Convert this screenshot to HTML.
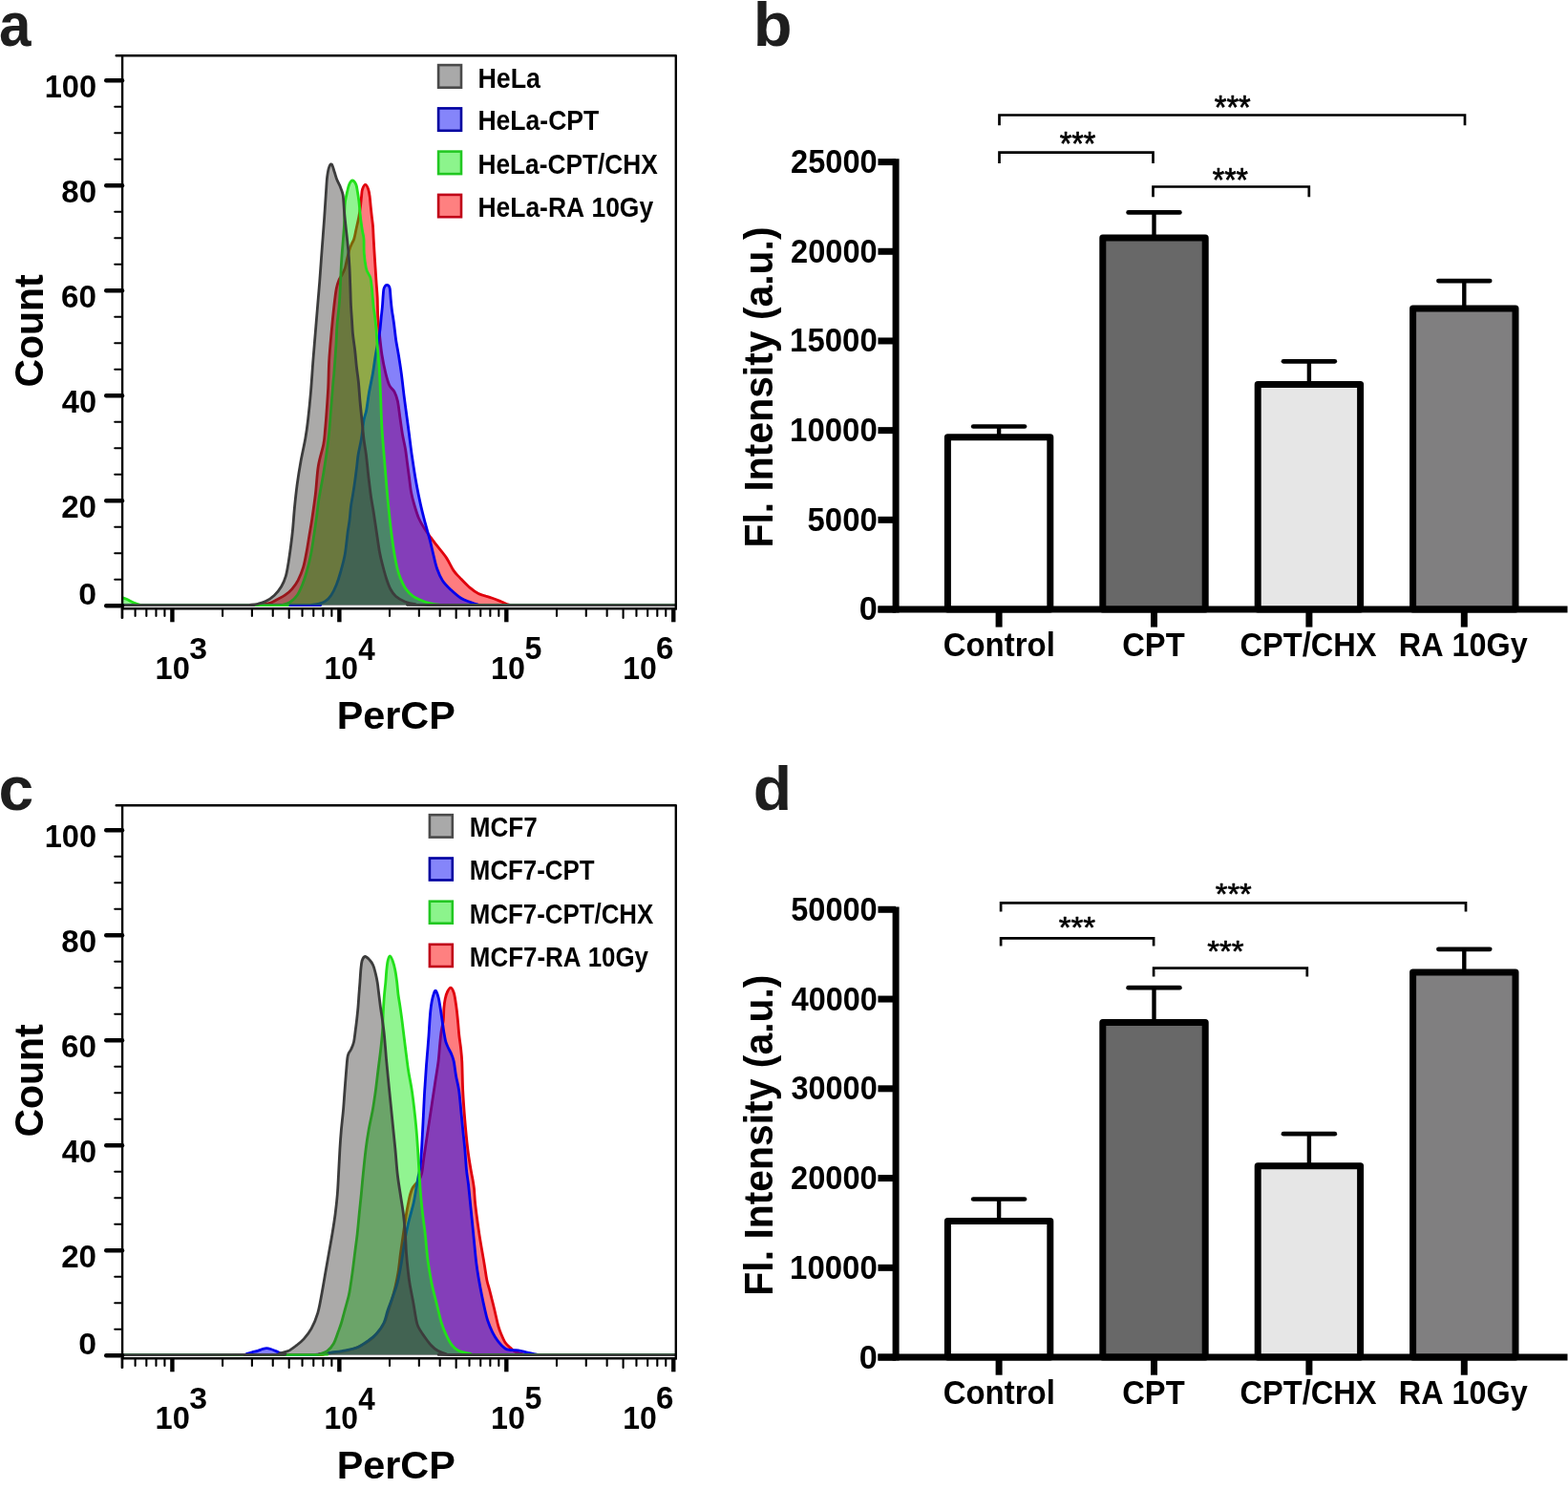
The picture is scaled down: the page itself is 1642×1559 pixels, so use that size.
<!DOCTYPE html>
<html><head><meta charset="utf-8"><title>Figure</title>
<style>
html,body{margin:0;padding:0;background:#fff;width:1642px;height:1559px;overflow:hidden}
svg{display:block}
text{font-family:"Liberation Sans",Arial,Helvetica,sans-serif;font-kerning:none}
</style></head><body>
<svg width="1642" height="1559" viewBox="0 0 1642 1559">
<rect x="0" y="0" width="1642" height="1559" fill="#fff"/>
<text x="-0.96" y="48.06" font-size="65.35" font-weight="bold" fill="#1e1e1e" textLength="33.48" lengthAdjust="spacingAndGlyphs">a</text>
<text x="788.69" y="48.07" font-size="64.95" font-weight="bold" fill="#1e1e1e" textLength="40.85" lengthAdjust="spacingAndGlyphs">b</text>
<text x="-1.48" y="847.87" font-size="64.07" font-weight="bold" fill="#1e1e1e" textLength="36.71" lengthAdjust="spacingAndGlyphs">c</text>
<text x="788.79" y="847.87" font-size="64.41" font-weight="bold" fill="#1e1e1e" textLength="40.37" lengthAdjust="spacingAndGlyphs">d</text>
<path d="M128.50,633.60 C150.75,633.60 237.80,633.67 262.00,633.60 C286.20,633.53 270.23,633.57 273.70,633.20 C277.17,632.83 280.07,632.32 282.80,631.40 C285.53,630.48 287.50,629.07 290.10,627.70 C292.70,626.33 295.80,625.02 298.40,623.20 C301.00,621.38 303.42,619.40 305.70,616.80 C307.98,614.20 310.12,611.42 312.10,607.60 C314.08,603.78 316.12,598.83 317.60,593.90 C319.08,588.97 319.93,583.65 321.00,578.00 C322.07,572.35 323.08,565.50 324.00,560.00 C324.92,554.50 325.43,552.17 326.50,545.00 C327.57,537.83 329.27,526.50 330.40,517.00 C331.53,507.50 331.90,496.67 333.30,488.00 C334.70,479.33 337.60,471.33 338.80,465.00 C340.00,458.67 339.95,455.83 340.50,450.00 C341.05,444.17 341.57,437.50 342.10,430.00 C342.63,422.50 343.27,413.83 343.70,405.00 C344.13,396.17 344.13,386.50 344.70,377.00 C345.27,367.50 346.22,357.67 347.10,348.00 C347.98,338.33 349.13,326.67 350.00,319.00 C350.87,311.33 351.47,306.33 352.30,302.00 C353.13,297.67 353.97,295.50 355.00,293.00 C356.03,290.50 357.43,289.12 358.50,287.00 C359.57,284.88 360.57,282.97 361.40,280.30 C362.23,277.63 362.73,274.22 363.50,271.00 C364.27,267.78 365.17,263.67 366.00,261.00 C366.83,258.33 367.70,256.83 368.50,255.00 C369.30,253.17 370.05,252.50 370.80,250.00 C371.55,247.50 372.15,243.93 373.00,240.00 C373.85,236.07 375.15,230.40 375.90,226.40 C376.65,222.40 377.07,219.40 377.50,216.00 C377.93,212.60 378.17,208.97 378.50,206.00 C378.83,203.03 378.80,200.30 379.50,198.20 C380.20,196.10 381.67,193.40 382.70,193.40 C383.73,193.40 384.95,196.12 385.70,198.20 C386.45,200.28 386.78,202.90 387.20,205.90 C387.62,208.90 387.85,212.78 388.20,216.20 C388.55,219.62 388.92,222.98 389.30,226.40 C389.68,229.82 390.18,232.77 390.50,236.70 C390.82,240.63 390.93,245.22 391.20,250.00 C391.47,254.78 391.78,260.27 392.10,265.40 C392.42,270.53 392.77,275.67 393.10,280.80 C393.43,285.93 393.75,291.07 394.10,296.20 C394.45,301.33 394.93,305.97 395.20,311.60 C395.47,317.23 395.37,323.98 395.70,330.00 C396.03,336.02 396.48,340.73 397.20,347.70 C397.92,354.67 398.88,364.58 400.00,371.80 C401.12,379.02 402.60,385.72 403.90,391.00 C405.20,396.28 406.27,400.28 407.80,403.50 C409.33,406.72 411.67,407.57 413.10,410.30 C414.53,413.03 415.42,415.28 416.40,419.90 C417.38,424.52 418.15,432.15 419.00,438.00 C419.85,443.85 420.58,449.67 421.50,455.00 C422.42,460.33 423.67,465.00 424.50,470.00 C425.33,475.00 425.83,480.00 426.50,485.00 C427.17,490.00 427.83,495.00 428.50,500.00 C429.17,505.00 429.63,510.33 430.50,515.00 C431.37,519.67 432.37,523.42 433.70,528.00 C435.03,532.58 436.73,538.32 438.50,542.50 C440.27,546.68 442.22,549.73 444.30,553.10 C446.38,556.47 448.77,559.65 451.00,562.70 C453.23,565.75 454.97,567.87 457.70,571.40 C460.43,574.93 464.52,579.57 467.40,583.90 C470.28,588.23 472.60,593.87 475.00,597.40 C477.40,600.93 479.07,602.22 481.80,605.10 C484.53,607.98 488.20,611.98 491.40,614.70 C494.60,617.42 496.98,619.47 501.00,621.40 C505.02,623.33 511.48,624.87 515.50,626.30 C519.52,627.73 522.18,628.85 525.10,630.00 C528.02,631.15 529.68,632.60 533.00,633.20 C536.32,633.80 515.92,633.53 545.00,633.60 C574.08,633.67 680.42,633.60 707.50,633.60 L707.50,633.60 L128.50,633.60 Z" fill="rgba(253,0,6,0.512)" stroke="none"/>
<path d="M128.50,633.60 C150.75,633.60 237.80,633.67 262.00,633.60 C286.20,633.53 270.23,633.57 273.70,633.20 C277.17,632.83 280.07,632.32 282.80,631.40 C285.53,630.48 287.50,629.07 290.10,627.70 C292.70,626.33 295.80,625.02 298.40,623.20 C301.00,621.38 303.42,619.40 305.70,616.80 C307.98,614.20 310.12,611.42 312.10,607.60 C314.08,603.78 316.12,598.83 317.60,593.90 C319.08,588.97 319.93,583.65 321.00,578.00 C322.07,572.35 323.08,565.50 324.00,560.00 C324.92,554.50 325.43,552.17 326.50,545.00 C327.57,537.83 329.27,526.50 330.40,517.00 C331.53,507.50 331.90,496.67 333.30,488.00 C334.70,479.33 337.60,471.33 338.80,465.00 C340.00,458.67 339.95,455.83 340.50,450.00 C341.05,444.17 341.57,437.50 342.10,430.00 C342.63,422.50 343.27,413.83 343.70,405.00 C344.13,396.17 344.13,386.50 344.70,377.00 C345.27,367.50 346.22,357.67 347.10,348.00 C347.98,338.33 349.13,326.67 350.00,319.00 C350.87,311.33 351.47,306.33 352.30,302.00 C353.13,297.67 353.97,295.50 355.00,293.00 C356.03,290.50 357.43,289.12 358.50,287.00 C359.57,284.88 360.57,282.97 361.40,280.30 C362.23,277.63 362.73,274.22 363.50,271.00 C364.27,267.78 365.17,263.67 366.00,261.00 C366.83,258.33 367.70,256.83 368.50,255.00 C369.30,253.17 370.05,252.50 370.80,250.00 C371.55,247.50 372.15,243.93 373.00,240.00 C373.85,236.07 375.15,230.40 375.90,226.40 C376.65,222.40 377.07,219.40 377.50,216.00 C377.93,212.60 378.17,208.97 378.50,206.00 C378.83,203.03 378.80,200.30 379.50,198.20 C380.20,196.10 381.67,193.40 382.70,193.40 C383.73,193.40 384.95,196.12 385.70,198.20 C386.45,200.28 386.78,202.90 387.20,205.90 C387.62,208.90 387.85,212.78 388.20,216.20 C388.55,219.62 388.92,222.98 389.30,226.40 C389.68,229.82 390.18,232.77 390.50,236.70 C390.82,240.63 390.93,245.22 391.20,250.00 C391.47,254.78 391.78,260.27 392.10,265.40 C392.42,270.53 392.77,275.67 393.10,280.80 C393.43,285.93 393.75,291.07 394.10,296.20 C394.45,301.33 394.93,305.97 395.20,311.60 C395.47,317.23 395.37,323.98 395.70,330.00 C396.03,336.02 396.48,340.73 397.20,347.70 C397.92,354.67 398.88,364.58 400.00,371.80 C401.12,379.02 402.60,385.72 403.90,391.00 C405.20,396.28 406.27,400.28 407.80,403.50 C409.33,406.72 411.67,407.57 413.10,410.30 C414.53,413.03 415.42,415.28 416.40,419.90 C417.38,424.52 418.15,432.15 419.00,438.00 C419.85,443.85 420.58,449.67 421.50,455.00 C422.42,460.33 423.67,465.00 424.50,470.00 C425.33,475.00 425.83,480.00 426.50,485.00 C427.17,490.00 427.83,495.00 428.50,500.00 C429.17,505.00 429.63,510.33 430.50,515.00 C431.37,519.67 432.37,523.42 433.70,528.00 C435.03,532.58 436.73,538.32 438.50,542.50 C440.27,546.68 442.22,549.73 444.30,553.10 C446.38,556.47 448.77,559.65 451.00,562.70 C453.23,565.75 454.97,567.87 457.70,571.40 C460.43,574.93 464.52,579.57 467.40,583.90 C470.28,588.23 472.60,593.87 475.00,597.40 C477.40,600.93 479.07,602.22 481.80,605.10 C484.53,607.98 488.20,611.98 491.40,614.70 C494.60,617.42 496.98,619.47 501.00,621.40 C505.02,623.33 511.48,624.87 515.50,626.30 C519.52,627.73 522.18,628.85 525.10,630.00 C528.02,631.15 529.68,632.60 533.00,633.20 C536.32,633.80 515.92,633.53 545.00,633.60 C574.08,633.67 680.42,633.60 707.50,633.60" fill="none" stroke="#e0000c" stroke-width="2.8" stroke-linejoin="round"/>
<path d="M128.50,633.60 C160.42,633.60 287.08,633.63 320.00,633.60 C352.92,633.57 323.82,633.62 326.00,633.40 C328.18,633.18 330.70,632.93 333.10,632.30 C335.50,631.67 338.12,631.12 340.40,629.60 C342.68,628.08 344.82,626.10 346.80,623.20 C348.78,620.30 350.63,616.32 352.30,612.20 C353.97,608.08 355.30,603.87 356.80,598.50 C358.30,593.13 360.08,586.85 361.30,580.00 C362.52,573.15 363.32,563.23 364.10,557.40 C364.88,551.57 365.43,549.57 366.00,545.00 C366.57,540.43 366.92,534.50 367.50,530.00 C368.08,525.50 368.83,522.17 369.50,518.00 C370.17,513.83 370.80,510.00 371.50,505.00 C372.20,500.00 373.10,492.83 373.70,488.00 C374.30,483.17 374.30,480.83 375.10,476.00 C375.90,471.17 377.52,465.00 378.50,459.00 C379.48,453.00 380.13,444.92 381.00,440.00 C381.87,435.08 382.77,434.45 383.70,429.50 C384.63,424.55 385.48,416.72 386.60,410.30 C387.72,403.88 389.28,397.42 390.40,391.00 C391.52,384.58 392.22,378.30 393.30,371.80 C394.38,365.30 396.10,356.63 396.90,352.00 C397.70,347.37 397.72,347.28 398.10,344.00 C398.48,340.72 398.82,336.17 399.20,332.30 C399.58,328.43 400.07,324.65 400.40,320.80 C400.73,316.95 400.95,312.25 401.20,309.20 C401.45,306.15 401.50,304.17 401.90,302.50 C402.30,300.83 403.05,299.88 403.60,299.20 C404.15,298.52 404.65,298.40 405.20,298.40 C405.75,298.40 406.38,298.52 406.90,299.20 C407.42,299.88 407.92,300.18 408.30,302.50 C408.68,304.82 408.85,309.42 409.20,313.10 C409.55,316.78 410.00,321.40 410.40,324.60 C410.80,327.80 411.22,329.73 411.60,332.30 C411.98,334.87 412.32,337.05 412.70,340.00 C413.08,342.95 413.55,347.17 413.90,350.00 C414.25,352.83 414.22,353.37 414.80,357.00 C415.38,360.63 416.48,366.13 417.40,371.80 C418.32,377.47 419.33,383.78 420.30,391.00 C421.27,398.22 422.17,406.93 423.20,415.10 C424.23,423.27 425.62,433.35 426.50,440.00 C427.38,446.65 427.92,450.50 428.50,455.00 C429.08,459.50 429.45,462.83 430.00,467.00 C430.55,471.17 430.87,473.82 431.80,480.00 C432.73,486.18 434.17,496.08 435.60,504.10 C437.03,512.12 438.80,520.88 440.40,528.10 C442.00,535.32 443.60,541.30 445.20,547.40 C446.80,553.50 448.55,559.10 450.00,564.70 C451.45,570.30 452.62,575.87 453.90,581.00 C455.18,586.13 456.10,591.00 457.70,595.50 C459.30,600.00 461.08,604.32 463.50,608.00 C465.92,611.68 469.00,614.55 472.20,617.60 C475.40,620.65 479.50,624.23 482.70,626.30 C485.90,628.37 488.52,628.92 491.40,630.00 C494.28,631.08 496.90,632.20 500.00,632.80 C503.10,633.40 475.42,633.47 510.00,633.60 C544.58,633.73 674.58,633.60 707.50,633.60 L707.50,633.60 L128.50,633.60 Z" fill="rgba(9,0,244,0.496)" stroke="none"/>
<path d="M128.50,633.60 C160.42,633.60 287.08,633.63 320.00,633.60 C352.92,633.57 323.82,633.62 326.00,633.40 C328.18,633.18 330.70,632.93 333.10,632.30 C335.50,631.67 338.12,631.12 340.40,629.60 C342.68,628.08 344.82,626.10 346.80,623.20 C348.78,620.30 350.63,616.32 352.30,612.20 C353.97,608.08 355.30,603.87 356.80,598.50 C358.30,593.13 360.08,586.85 361.30,580.00 C362.52,573.15 363.32,563.23 364.10,557.40 C364.88,551.57 365.43,549.57 366.00,545.00 C366.57,540.43 366.92,534.50 367.50,530.00 C368.08,525.50 368.83,522.17 369.50,518.00 C370.17,513.83 370.80,510.00 371.50,505.00 C372.20,500.00 373.10,492.83 373.70,488.00 C374.30,483.17 374.30,480.83 375.10,476.00 C375.90,471.17 377.52,465.00 378.50,459.00 C379.48,453.00 380.13,444.92 381.00,440.00 C381.87,435.08 382.77,434.45 383.70,429.50 C384.63,424.55 385.48,416.72 386.60,410.30 C387.72,403.88 389.28,397.42 390.40,391.00 C391.52,384.58 392.22,378.30 393.30,371.80 C394.38,365.30 396.10,356.63 396.90,352.00 C397.70,347.37 397.72,347.28 398.10,344.00 C398.48,340.72 398.82,336.17 399.20,332.30 C399.58,328.43 400.07,324.65 400.40,320.80 C400.73,316.95 400.95,312.25 401.20,309.20 C401.45,306.15 401.50,304.17 401.90,302.50 C402.30,300.83 403.05,299.88 403.60,299.20 C404.15,298.52 404.65,298.40 405.20,298.40 C405.75,298.40 406.38,298.52 406.90,299.20 C407.42,299.88 407.92,300.18 408.30,302.50 C408.68,304.82 408.85,309.42 409.20,313.10 C409.55,316.78 410.00,321.40 410.40,324.60 C410.80,327.80 411.22,329.73 411.60,332.30 C411.98,334.87 412.32,337.05 412.70,340.00 C413.08,342.95 413.55,347.17 413.90,350.00 C414.25,352.83 414.22,353.37 414.80,357.00 C415.38,360.63 416.48,366.13 417.40,371.80 C418.32,377.47 419.33,383.78 420.30,391.00 C421.27,398.22 422.17,406.93 423.20,415.10 C424.23,423.27 425.62,433.35 426.50,440.00 C427.38,446.65 427.92,450.50 428.50,455.00 C429.08,459.50 429.45,462.83 430.00,467.00 C430.55,471.17 430.87,473.82 431.80,480.00 C432.73,486.18 434.17,496.08 435.60,504.10 C437.03,512.12 438.80,520.88 440.40,528.10 C442.00,535.32 443.60,541.30 445.20,547.40 C446.80,553.50 448.55,559.10 450.00,564.70 C451.45,570.30 452.62,575.87 453.90,581.00 C455.18,586.13 456.10,591.00 457.70,595.50 C459.30,600.00 461.08,604.32 463.50,608.00 C465.92,611.68 469.00,614.55 472.20,617.60 C475.40,620.65 479.50,624.23 482.70,626.30 C485.90,628.37 488.52,628.92 491.40,630.00 C494.28,631.08 496.90,632.20 500.00,632.80 C503.10,633.40 475.42,633.47 510.00,633.60 C544.58,633.73 674.58,633.60 707.50,633.60" fill="none" stroke="#0000ee" stroke-width="2.8" stroke-linejoin="round"/>
<path d="M128.50,625.80 C129.25,626.08 131.08,626.63 133.00,627.50 C134.92,628.37 137.67,630.03 140.00,631.00 C142.33,631.97 143.67,632.87 147.00,633.30 C150.33,633.73 136.17,633.55 160.00,633.60 C183.83,633.65 267.25,633.67 290.00,633.60 C312.75,633.53 294.20,633.72 296.50,633.20 C298.80,632.68 301.35,632.17 303.80,630.50 C306.25,628.83 309.07,626.25 311.20,623.20 C313.33,620.15 314.93,616.32 316.60,612.20 C318.27,608.08 319.68,603.87 321.20,598.50 C322.72,593.13 324.40,586.58 325.70,580.00 C327.00,573.42 328.00,565.67 329.00,559.00 C330.00,552.33 330.87,546.17 331.70,540.00 C332.53,533.83 332.78,529.67 334.00,522.00 C335.22,514.33 337.33,504.50 339.00,494.00 C340.67,483.50 342.75,469.67 344.00,459.00 C345.25,448.33 345.68,439.83 346.50,430.00 C347.32,420.17 348.35,406.50 348.90,400.00 C349.45,393.50 349.28,397.67 349.80,391.00 C350.32,384.33 351.47,368.50 352.00,360.00 C352.53,351.50 352.40,347.67 353.00,340.00 C353.60,332.33 354.85,324.83 355.60,314.00 C356.35,303.17 356.87,285.67 357.50,275.00 C358.13,264.33 358.90,256.67 359.40,250.00 C359.90,243.33 360.27,239.78 360.50,235.00 C360.73,230.22 360.63,225.30 360.80,221.30 C360.97,217.30 361.03,214.42 361.50,211.00 C361.97,207.58 362.90,203.78 363.60,200.80 C364.30,197.82 364.80,195.07 365.70,193.10 C366.60,191.13 367.82,189.00 369.00,189.00 C370.18,189.00 371.90,191.13 372.80,193.10 C373.70,195.07 373.88,197.82 374.40,200.80 C374.92,203.78 375.48,207.58 375.90,211.00 C376.32,214.42 376.55,217.87 376.90,221.30 C377.25,224.73 377.57,228.18 378.00,231.60 C378.43,235.02 379.00,238.73 379.50,241.80 C380.00,244.87 380.70,246.07 381.00,250.00 C381.30,253.93 380.90,260.27 381.30,265.40 C381.70,270.53 382.62,277.20 383.40,280.80 C384.18,284.40 385.23,285.30 386.00,287.00 C386.77,288.70 387.45,288.83 388.00,291.00 C388.55,293.17 388.92,296.57 389.30,300.00 C389.68,303.43 389.98,307.97 390.30,311.60 C390.62,315.23 390.85,318.73 391.20,321.80 C391.55,324.87 391.93,326.13 392.40,330.00 C392.87,333.87 393.60,340.43 394.00,345.00 C394.40,349.57 394.27,350.53 394.80,357.40 C395.33,364.27 396.57,376.60 397.20,386.20 C397.83,395.80 398.22,406.03 398.60,415.00 C398.98,423.97 399.15,432.67 399.50,440.00 C399.85,447.33 400.10,451.00 400.70,459.00 C401.30,467.00 402.30,478.33 403.10,488.00 C403.90,497.67 404.70,508.17 405.50,517.00 C406.30,525.83 407.15,534.00 407.90,541.00 C408.65,548.00 409.15,552.50 410.00,559.00 C410.85,565.50 412.00,574.00 413.00,580.00 C414.00,586.00 414.97,590.82 416.00,595.00 C417.03,599.18 417.70,601.50 419.20,605.10 C420.70,608.70 422.75,613.40 425.00,616.60 C427.25,619.80 430.13,622.37 432.70,624.30 C435.27,626.23 437.52,627.00 440.40,628.20 C443.28,629.40 446.73,630.67 450.00,631.50 C453.27,632.33 456.33,632.85 460.00,633.20 C463.67,633.55 430.75,633.53 472.00,633.60 C513.25,633.67 668.25,633.60 707.50,633.60 L707.50,633.60 L128.50,633.60 Z" fill="rgba(0,229,0,0.431)" stroke="none"/>
<path d="M128.50,625.80 C129.25,626.08 131.08,626.63 133.00,627.50 C134.92,628.37 137.67,630.03 140.00,631.00 C142.33,631.97 143.67,632.87 147.00,633.30 C150.33,633.73 136.17,633.55 160.00,633.60 C183.83,633.65 267.25,633.67 290.00,633.60 C312.75,633.53 294.20,633.72 296.50,633.20 C298.80,632.68 301.35,632.17 303.80,630.50 C306.25,628.83 309.07,626.25 311.20,623.20 C313.33,620.15 314.93,616.32 316.60,612.20 C318.27,608.08 319.68,603.87 321.20,598.50 C322.72,593.13 324.40,586.58 325.70,580.00 C327.00,573.42 328.00,565.67 329.00,559.00 C330.00,552.33 330.87,546.17 331.70,540.00 C332.53,533.83 332.78,529.67 334.00,522.00 C335.22,514.33 337.33,504.50 339.00,494.00 C340.67,483.50 342.75,469.67 344.00,459.00 C345.25,448.33 345.68,439.83 346.50,430.00 C347.32,420.17 348.35,406.50 348.90,400.00 C349.45,393.50 349.28,397.67 349.80,391.00 C350.32,384.33 351.47,368.50 352.00,360.00 C352.53,351.50 352.40,347.67 353.00,340.00 C353.60,332.33 354.85,324.83 355.60,314.00 C356.35,303.17 356.87,285.67 357.50,275.00 C358.13,264.33 358.90,256.67 359.40,250.00 C359.90,243.33 360.27,239.78 360.50,235.00 C360.73,230.22 360.63,225.30 360.80,221.30 C360.97,217.30 361.03,214.42 361.50,211.00 C361.97,207.58 362.90,203.78 363.60,200.80 C364.30,197.82 364.80,195.07 365.70,193.10 C366.60,191.13 367.82,189.00 369.00,189.00 C370.18,189.00 371.90,191.13 372.80,193.10 C373.70,195.07 373.88,197.82 374.40,200.80 C374.92,203.78 375.48,207.58 375.90,211.00 C376.32,214.42 376.55,217.87 376.90,221.30 C377.25,224.73 377.57,228.18 378.00,231.60 C378.43,235.02 379.00,238.73 379.50,241.80 C380.00,244.87 380.70,246.07 381.00,250.00 C381.30,253.93 380.90,260.27 381.30,265.40 C381.70,270.53 382.62,277.20 383.40,280.80 C384.18,284.40 385.23,285.30 386.00,287.00 C386.77,288.70 387.45,288.83 388.00,291.00 C388.55,293.17 388.92,296.57 389.30,300.00 C389.68,303.43 389.98,307.97 390.30,311.60 C390.62,315.23 390.85,318.73 391.20,321.80 C391.55,324.87 391.93,326.13 392.40,330.00 C392.87,333.87 393.60,340.43 394.00,345.00 C394.40,349.57 394.27,350.53 394.80,357.40 C395.33,364.27 396.57,376.60 397.20,386.20 C397.83,395.80 398.22,406.03 398.60,415.00 C398.98,423.97 399.15,432.67 399.50,440.00 C399.85,447.33 400.10,451.00 400.70,459.00 C401.30,467.00 402.30,478.33 403.10,488.00 C403.90,497.67 404.70,508.17 405.50,517.00 C406.30,525.83 407.15,534.00 407.90,541.00 C408.65,548.00 409.15,552.50 410.00,559.00 C410.85,565.50 412.00,574.00 413.00,580.00 C414.00,586.00 414.97,590.82 416.00,595.00 C417.03,599.18 417.70,601.50 419.20,605.10 C420.70,608.70 422.75,613.40 425.00,616.60 C427.25,619.80 430.13,622.37 432.70,624.30 C435.27,626.23 437.52,627.00 440.40,628.20 C443.28,629.40 446.73,630.67 450.00,631.50 C453.27,632.33 456.33,632.85 460.00,633.20 C463.67,633.55 430.75,633.53 472.00,633.60 C513.25,633.67 668.25,633.60 707.50,633.60" fill="none" stroke="#22e01a" stroke-width="2.8" stroke-linejoin="round"/>
<path d="M128.50,633.60 C149.58,633.60 232.75,633.65 255.00,633.60 C277.25,633.55 259.50,633.52 262.00,633.30 C264.50,633.08 267.28,632.92 270.00,632.30 C272.72,631.68 275.40,631.12 278.30,629.60 C281.20,628.08 284.67,625.80 287.40,623.20 C290.13,620.60 292.72,617.35 294.70,614.00 C296.68,610.65 298.08,607.20 299.30,603.10 C300.52,599.00 301.13,594.58 302.00,589.40 C302.87,584.22 303.75,577.73 304.50,572.00 C305.25,566.27 305.83,561.83 306.50,555.00 C307.17,548.17 307.72,539.00 308.50,531.00 C309.28,523.00 310.12,515.00 311.20,507.00 C312.28,499.00 313.57,491.00 315.00,483.00 C316.43,475.00 318.55,466.17 319.80,459.00 C321.05,451.83 321.55,448.17 322.50,440.00 C323.45,431.83 324.60,420.50 325.50,410.00 C326.40,399.50 327.10,387.33 327.90,377.00 C328.70,366.67 329.50,357.67 330.30,348.00 C331.10,338.33 331.97,327.83 332.70,319.00 C333.43,310.17 334.07,303.17 334.70,295.00 C335.33,286.83 335.95,277.50 336.50,270.00 C337.05,262.50 337.50,256.67 338.00,250.00 C338.50,243.33 339.08,235.83 339.50,230.00 C339.92,224.17 340.17,220.00 340.50,215.00 C340.83,210.00 341.15,204.93 341.50,200.00 C341.85,195.07 342.08,189.55 342.60,185.40 C343.12,181.25 343.80,177.32 344.60,175.10 C345.40,172.88 346.45,171.23 347.40,172.10 C348.35,172.97 349.40,177.65 350.30,180.30 C351.20,182.95 351.78,185.43 352.80,188.00 C353.82,190.57 355.37,193.13 356.40,195.70 C357.43,198.27 358.43,200.85 359.00,203.40 C359.57,205.95 359.55,208.02 359.80,211.00 C360.05,213.98 360.22,217.87 360.50,221.30 C360.78,224.73 361.15,228.18 361.50,231.60 C361.85,235.02 362.27,238.73 362.60,241.80 C362.93,244.87 363.10,246.13 363.50,250.00 C363.90,253.87 364.58,260.00 365.00,265.00 C365.42,270.00 365.70,274.17 366.00,280.00 C366.30,285.83 366.55,293.33 366.80,300.00 C367.05,306.67 367.22,314.17 367.50,320.00 C367.78,325.83 368.17,330.00 368.50,335.00 C368.83,340.00 368.97,344.67 369.50,350.00 C370.03,355.33 371.03,361.17 371.70,367.00 C372.37,372.83 372.88,379.50 373.50,385.00 C374.12,390.50 374.82,394.17 375.40,400.00 C375.98,405.83 376.40,413.33 377.00,420.00 C377.60,426.67 378.33,433.33 379.00,440.00 C379.67,446.67 380.27,454.00 381.00,460.00 C381.73,466.00 382.57,469.33 383.40,476.00 C384.23,482.67 385.15,492.67 386.00,500.00 C386.85,507.33 387.67,514.17 388.50,520.00 C389.33,525.83 390.08,529.17 391.00,535.00 C391.92,540.83 392.92,547.83 394.00,555.00 C395.08,562.17 396.33,571.67 397.50,578.00 C398.67,584.33 399.75,588.17 401.00,593.00 C402.25,597.83 403.67,603.00 405.00,607.00 C406.33,611.00 407.43,614.12 409.00,617.00 C410.57,619.88 411.90,622.13 414.40,624.30 C416.90,626.47 420.57,628.60 424.00,630.00 C427.43,631.40 430.67,632.12 435.00,632.70 C439.33,633.28 404.58,633.35 450.00,633.50 C495.42,633.65 664.58,633.58 707.50,633.60 L707.50,633.60 L128.50,633.60 Z" fill="rgba(55,53,50,0.419)" stroke="none"/>
<path d="M128.50,633.60 C149.58,633.60 232.75,633.65 255.00,633.60 C277.25,633.55 259.50,633.52 262.00,633.30 C264.50,633.08 267.28,632.92 270.00,632.30 C272.72,631.68 275.40,631.12 278.30,629.60 C281.20,628.08 284.67,625.80 287.40,623.20 C290.13,620.60 292.72,617.35 294.70,614.00 C296.68,610.65 298.08,607.20 299.30,603.10 C300.52,599.00 301.13,594.58 302.00,589.40 C302.87,584.22 303.75,577.73 304.50,572.00 C305.25,566.27 305.83,561.83 306.50,555.00 C307.17,548.17 307.72,539.00 308.50,531.00 C309.28,523.00 310.12,515.00 311.20,507.00 C312.28,499.00 313.57,491.00 315.00,483.00 C316.43,475.00 318.55,466.17 319.80,459.00 C321.05,451.83 321.55,448.17 322.50,440.00 C323.45,431.83 324.60,420.50 325.50,410.00 C326.40,399.50 327.10,387.33 327.90,377.00 C328.70,366.67 329.50,357.67 330.30,348.00 C331.10,338.33 331.97,327.83 332.70,319.00 C333.43,310.17 334.07,303.17 334.70,295.00 C335.33,286.83 335.95,277.50 336.50,270.00 C337.05,262.50 337.50,256.67 338.00,250.00 C338.50,243.33 339.08,235.83 339.50,230.00 C339.92,224.17 340.17,220.00 340.50,215.00 C340.83,210.00 341.15,204.93 341.50,200.00 C341.85,195.07 342.08,189.55 342.60,185.40 C343.12,181.25 343.80,177.32 344.60,175.10 C345.40,172.88 346.45,171.23 347.40,172.10 C348.35,172.97 349.40,177.65 350.30,180.30 C351.20,182.95 351.78,185.43 352.80,188.00 C353.82,190.57 355.37,193.13 356.40,195.70 C357.43,198.27 358.43,200.85 359.00,203.40 C359.57,205.95 359.55,208.02 359.80,211.00 C360.05,213.98 360.22,217.87 360.50,221.30 C360.78,224.73 361.15,228.18 361.50,231.60 C361.85,235.02 362.27,238.73 362.60,241.80 C362.93,244.87 363.10,246.13 363.50,250.00 C363.90,253.87 364.58,260.00 365.00,265.00 C365.42,270.00 365.70,274.17 366.00,280.00 C366.30,285.83 366.55,293.33 366.80,300.00 C367.05,306.67 367.22,314.17 367.50,320.00 C367.78,325.83 368.17,330.00 368.50,335.00 C368.83,340.00 368.97,344.67 369.50,350.00 C370.03,355.33 371.03,361.17 371.70,367.00 C372.37,372.83 372.88,379.50 373.50,385.00 C374.12,390.50 374.82,394.17 375.40,400.00 C375.98,405.83 376.40,413.33 377.00,420.00 C377.60,426.67 378.33,433.33 379.00,440.00 C379.67,446.67 380.27,454.00 381.00,460.00 C381.73,466.00 382.57,469.33 383.40,476.00 C384.23,482.67 385.15,492.67 386.00,500.00 C386.85,507.33 387.67,514.17 388.50,520.00 C389.33,525.83 390.08,529.17 391.00,535.00 C391.92,540.83 392.92,547.83 394.00,555.00 C395.08,562.17 396.33,571.67 397.50,578.00 C398.67,584.33 399.75,588.17 401.00,593.00 C402.25,597.83 403.67,603.00 405.00,607.00 C406.33,611.00 407.43,614.12 409.00,617.00 C410.57,619.88 411.90,622.13 414.40,624.30 C416.90,626.47 420.57,628.60 424.00,630.00 C427.43,631.40 430.67,632.12 435.00,632.70 C439.33,633.28 404.58,633.35 450.00,633.50 C495.42,633.65 664.58,633.58 707.50,633.60" fill="none" stroke="#3c3c3c" stroke-width="2.8" stroke-linejoin="round"/>
<path d="M121.7,58.30 H707.8 V637.20" fill="none" stroke="#000" stroke-width="2.4" stroke-linecap="round" stroke-linejoin="round"/>
<line x1="128.10" y1="57.30" x2="128.10" y2="647.50" stroke="#000" stroke-width="2.40" stroke-linecap="butt"/>
<line x1="126.90" y1="637.20" x2="709.00" y2="637.20" stroke="#000" stroke-width="2.60" stroke-linecap="butt"/>
<line x1="111.20" y1="634.20" x2="128.00" y2="634.20" stroke="#000" stroke-width="4.40" stroke-linecap="round"/>
<line x1="120.20" y1="606.71" x2="128.00" y2="606.71" stroke="#000" stroke-width="2.00" stroke-linecap="round"/>
<line x1="120.20" y1="579.21" x2="128.00" y2="579.21" stroke="#000" stroke-width="2.00" stroke-linecap="round"/>
<line x1="120.20" y1="551.72" x2="128.00" y2="551.72" stroke="#000" stroke-width="2.00" stroke-linecap="round"/>
<line x1="111.20" y1="524.22" x2="128.00" y2="524.22" stroke="#000" stroke-width="4.40" stroke-linecap="round"/>
<line x1="120.20" y1="496.73" x2="128.00" y2="496.73" stroke="#000" stroke-width="2.00" stroke-linecap="round"/>
<line x1="120.20" y1="469.23" x2="128.00" y2="469.23" stroke="#000" stroke-width="2.00" stroke-linecap="round"/>
<line x1="120.20" y1="441.74" x2="128.00" y2="441.74" stroke="#000" stroke-width="2.00" stroke-linecap="round"/>
<line x1="111.20" y1="414.24" x2="128.00" y2="414.24" stroke="#000" stroke-width="4.40" stroke-linecap="round"/>
<line x1="120.20" y1="386.75" x2="128.00" y2="386.75" stroke="#000" stroke-width="2.00" stroke-linecap="round"/>
<line x1="120.20" y1="359.25" x2="128.00" y2="359.25" stroke="#000" stroke-width="2.00" stroke-linecap="round"/>
<line x1="120.20" y1="331.76" x2="128.00" y2="331.76" stroke="#000" stroke-width="2.00" stroke-linecap="round"/>
<line x1="111.20" y1="304.26" x2="128.00" y2="304.26" stroke="#000" stroke-width="4.40" stroke-linecap="round"/>
<line x1="120.20" y1="276.77" x2="128.00" y2="276.77" stroke="#000" stroke-width="2.00" stroke-linecap="round"/>
<line x1="120.20" y1="249.27" x2="128.00" y2="249.27" stroke="#000" stroke-width="2.00" stroke-linecap="round"/>
<line x1="120.20" y1="221.78" x2="128.00" y2="221.78" stroke="#000" stroke-width="2.00" stroke-linecap="round"/>
<line x1="111.20" y1="194.28" x2="128.00" y2="194.28" stroke="#000" stroke-width="4.40" stroke-linecap="round"/>
<line x1="120.20" y1="166.79" x2="128.00" y2="166.79" stroke="#000" stroke-width="2.00" stroke-linecap="round"/>
<line x1="120.20" y1="139.29" x2="128.00" y2="139.29" stroke="#000" stroke-width="2.00" stroke-linecap="round"/>
<line x1="120.20" y1="111.80" x2="128.00" y2="111.80" stroke="#000" stroke-width="2.00" stroke-linecap="round"/>
<line x1="111.20" y1="84.30" x2="128.00" y2="84.30" stroke="#000" stroke-width="4.40" stroke-linecap="round"/>
<line x1="127.76" y1="637.20" x2="127.76" y2="647.00" stroke="#000" stroke-width="2.10" stroke-linecap="round"/>
<line x1="141.61" y1="637.20" x2="141.61" y2="645.00" stroke="#000" stroke-width="2.10" stroke-linecap="round"/>
<line x1="153.32" y1="637.20" x2="153.32" y2="645.00" stroke="#000" stroke-width="2.10" stroke-linecap="round"/>
<line x1="163.47" y1="637.20" x2="163.47" y2="645.00" stroke="#000" stroke-width="2.10" stroke-linecap="round"/>
<line x1="172.42" y1="637.20" x2="172.42" y2="645.00" stroke="#000" stroke-width="2.10" stroke-linecap="round"/>
<line x1="180.42" y1="637.20" x2="180.42" y2="651.30" stroke="#000" stroke-width="4.40" stroke-linecap="butt"/>
<line x1="233.09" y1="637.20" x2="233.09" y2="645.00" stroke="#000" stroke-width="2.10" stroke-linecap="round"/>
<line x1="263.89" y1="637.20" x2="263.89" y2="645.00" stroke="#000" stroke-width="2.10" stroke-linecap="round"/>
<line x1="285.75" y1="637.20" x2="285.75" y2="645.00" stroke="#000" stroke-width="2.10" stroke-linecap="round"/>
<line x1="302.70" y1="637.20" x2="302.70" y2="647.00" stroke="#000" stroke-width="2.10" stroke-linecap="round"/>
<line x1="316.56" y1="637.20" x2="316.56" y2="645.00" stroke="#000" stroke-width="2.10" stroke-linecap="round"/>
<line x1="328.27" y1="637.20" x2="328.27" y2="645.00" stroke="#000" stroke-width="2.10" stroke-linecap="round"/>
<line x1="338.41" y1="637.20" x2="338.41" y2="645.00" stroke="#000" stroke-width="2.10" stroke-linecap="round"/>
<line x1="347.36" y1="637.20" x2="347.36" y2="645.00" stroke="#000" stroke-width="2.10" stroke-linecap="round"/>
<line x1="355.37" y1="637.20" x2="355.37" y2="651.30" stroke="#000" stroke-width="4.40" stroke-linecap="butt"/>
<line x1="408.03" y1="637.20" x2="408.03" y2="645.00" stroke="#000" stroke-width="2.10" stroke-linecap="round"/>
<line x1="438.84" y1="637.20" x2="438.84" y2="645.00" stroke="#000" stroke-width="2.10" stroke-linecap="round"/>
<line x1="460.69" y1="637.20" x2="460.69" y2="645.00" stroke="#000" stroke-width="2.10" stroke-linecap="round"/>
<line x1="477.65" y1="637.20" x2="477.65" y2="647.00" stroke="#000" stroke-width="2.10" stroke-linecap="round"/>
<line x1="491.50" y1="637.20" x2="491.50" y2="645.00" stroke="#000" stroke-width="2.10" stroke-linecap="round"/>
<line x1="503.21" y1="637.20" x2="503.21" y2="645.00" stroke="#000" stroke-width="2.10" stroke-linecap="round"/>
<line x1="513.36" y1="637.20" x2="513.36" y2="645.00" stroke="#000" stroke-width="2.10" stroke-linecap="round"/>
<line x1="522.31" y1="637.20" x2="522.31" y2="645.00" stroke="#000" stroke-width="2.10" stroke-linecap="round"/>
<line x1="530.31" y1="637.20" x2="530.31" y2="651.30" stroke="#000" stroke-width="4.40" stroke-linecap="butt"/>
<line x1="582.98" y1="637.20" x2="582.98" y2="645.00" stroke="#000" stroke-width="2.10" stroke-linecap="round"/>
<line x1="613.78" y1="637.20" x2="613.78" y2="645.00" stroke="#000" stroke-width="2.10" stroke-linecap="round"/>
<line x1="635.64" y1="637.20" x2="635.64" y2="645.00" stroke="#000" stroke-width="2.10" stroke-linecap="round"/>
<line x1="652.59" y1="637.20" x2="652.59" y2="647.00" stroke="#000" stroke-width="2.10" stroke-linecap="round"/>
<line x1="666.45" y1="637.20" x2="666.45" y2="645.00" stroke="#000" stroke-width="2.10" stroke-linecap="round"/>
<line x1="678.16" y1="637.20" x2="678.16" y2="645.00" stroke="#000" stroke-width="2.10" stroke-linecap="round"/>
<line x1="688.30" y1="637.20" x2="688.30" y2="645.00" stroke="#000" stroke-width="2.10" stroke-linecap="round"/>
<line x1="697.25" y1="637.20" x2="697.25" y2="645.00" stroke="#000" stroke-width="2.10" stroke-linecap="round"/>
<line x1="705.26" y1="637.20" x2="705.26" y2="651.30" stroke="#000" stroke-width="4.40" stroke-linecap="butt"/>
<text x="46.65" y="102.28" font-size="32.34" font-weight="bold" fill="#000" textLength="54.39" lengthAdjust="spacingAndGlyphs">100</text>
<text x="64.25" y="212.26" font-size="32.34" font-weight="bold" fill="#000" textLength="36.81" lengthAdjust="spacingAndGlyphs">80</text>
<text x="64.08" y="322.24" font-size="32.34" font-weight="bold" fill="#000" textLength="36.98" lengthAdjust="spacingAndGlyphs">60</text>
<text x="64.81" y="432.22" font-size="32.34" font-weight="bold" fill="#000" textLength="36.23" lengthAdjust="spacingAndGlyphs">40</text>
<text x="64.15" y="542.20" font-size="32.34" font-weight="bold" fill="#000" textLength="36.91" lengthAdjust="spacingAndGlyphs">20</text>
<text x="82.26" y="633.29" font-size="31.64" font-weight="bold" fill="#000" textLength="18.83" lengthAdjust="spacingAndGlyphs">0</text>
<text x="162.54" y="710.98" font-size="33.05" font-weight="bold" fill="#000" textLength="36.29" lengthAdjust="spacingAndGlyphs">10</text>
<text x="198.22" y="690.44" font-size="32.28" font-weight="bold" fill="#000" textLength="18.80" lengthAdjust="spacingAndGlyphs">3</text>
<text x="339.49" y="710.98" font-size="33.05" font-weight="bold" fill="#000" textLength="35.41" lengthAdjust="spacingAndGlyphs">10</text>
<text x="375.33" y="690.80" font-size="33.29" font-weight="bold" fill="#000" textLength="17.44" lengthAdjust="spacingAndGlyphs">4</text>
<text x="513.97" y="710.98" font-size="33.05" font-weight="bold" fill="#000" textLength="35.85" lengthAdjust="spacingAndGlyphs">10</text>
<text x="549.41" y="690.48" font-size="32.82" font-weight="bold" fill="#000" textLength="17.88" lengthAdjust="spacingAndGlyphs">5</text>
<text x="652.29" y="710.98" font-size="33.05" font-weight="bold" fill="#000" textLength="35.52" lengthAdjust="spacingAndGlyphs">10</text>
<text x="687.09" y="690.48" font-size="32.34" font-weight="bold" fill="#000" textLength="18.41" lengthAdjust="spacingAndGlyphs">6</text>
<text x="352.63" y="762.80" font-size="41.38" font-weight="bold" fill="#000" textLength="124.18" lengthAdjust="spacingAndGlyphs">PerCP</text>
<text transform="rotate(-90)" x="-405.48" y="45.28" font-size="42.80" font-weight="bold" fill="#000" textLength="118.18" lengthAdjust="spacingAndGlyphs">Count</text>
<rect x="459.10" y="68.10" width="23.90" height="23.60" fill="#a9a9a9" stroke="#4a4a4a" stroke-width="2.6"/>
<text x="500.41" y="91.70" font-size="30.09" font-weight="bold" fill="#000" textLength="65.52" lengthAdjust="spacingAndGlyphs">HeLa</text>
<rect x="459.10" y="113.40" width="23.90" height="23.40" fill="#8585fa" stroke="#0000a0" stroke-width="2.6"/>
<text x="500.42" y="136.20" font-size="29.22" font-weight="bold" fill="#000" textLength="126.86" lengthAdjust="spacingAndGlyphs">HeLa-CPT</text>
<rect x="459.10" y="158.60" width="23.90" height="23.50" fill="#8cf48c" stroke="#22c822" stroke-width="2.6"/>
<text x="500.44" y="181.60" font-size="29.22" font-weight="bold" fill="#000" textLength="188.29" lengthAdjust="spacingAndGlyphs">HeLa-CPT/CHX</text>
<rect x="459.10" y="203.90" width="23.90" height="23.30" fill="#fe8080" stroke="#c00018" stroke-width="2.6"/>
<text x="500.43" y="226.90" font-size="30.09" font-weight="bold" fill="#000" textLength="183.71" lengthAdjust="spacingAndGlyphs">HeLa-RA 10Gy</text>
<path d="M128.50,1418.60 C160.42,1418.58 285.58,1418.67 320.00,1418.50 C354.42,1418.33 330.00,1417.97 335.00,1417.60 C340.00,1417.23 345.17,1416.90 350.00,1416.30 C354.83,1415.70 359.67,1415.05 364.00,1414.00 C368.33,1412.95 371.93,1411.92 376.00,1410.00 C380.07,1408.08 384.72,1405.50 388.40,1402.50 C392.08,1399.50 395.67,1395.08 398.10,1392.00 C400.53,1388.92 401.70,1386.83 403.00,1384.00 C404.30,1381.17 404.73,1378.67 405.90,1375.00 C407.07,1371.33 408.65,1366.67 410.00,1362.00 C411.35,1357.33 412.83,1352.00 414.00,1347.00 C415.17,1342.00 416.08,1337.83 417.00,1332.00 C417.92,1326.17 418.60,1318.73 419.50,1312.00 C420.40,1305.27 421.40,1298.43 422.40,1291.60 C423.40,1284.77 424.65,1276.27 425.50,1271.00 C426.35,1265.73 426.82,1263.42 427.50,1260.00 C428.18,1256.58 428.85,1253.17 429.60,1250.50 C430.35,1247.83 431.10,1245.75 432.00,1244.00 C432.90,1242.25 433.92,1241.33 435.00,1240.00 C436.08,1238.67 437.40,1237.87 438.50,1236.00 C439.60,1234.13 440.73,1232.57 441.60,1228.80 C442.47,1225.03 442.85,1219.38 443.70,1213.40 C444.55,1207.42 445.68,1199.73 446.70,1192.90 C447.72,1186.07 448.77,1179.25 449.80,1172.40 C450.83,1165.55 451.87,1158.65 452.90,1151.80 C453.93,1144.95 454.97,1138.13 456.00,1131.30 C457.03,1124.47 458.35,1116.85 459.10,1110.80 C459.85,1104.75 460.00,1100.13 460.50,1095.00 C461.00,1089.87 461.47,1084.48 462.10,1080.00 C462.73,1075.52 463.83,1072.22 464.30,1068.10 C464.77,1063.98 464.58,1059.03 464.90,1055.30 C465.22,1051.57 465.57,1048.58 466.20,1045.70 C466.83,1042.82 467.73,1039.93 468.70,1038.00 C469.67,1036.07 470.92,1033.90 472.00,1034.10 C473.08,1034.30 474.35,1036.73 475.20,1039.20 C476.05,1041.67 476.57,1045.68 477.10,1048.90 C477.63,1052.12 477.97,1054.77 478.40,1058.50 C478.83,1062.23 479.30,1067.05 479.70,1071.30 C480.10,1075.55 480.33,1079.72 480.80,1084.00 C481.27,1088.28 482.00,1092.33 482.50,1097.00 C483.00,1101.67 483.43,1104.57 483.80,1112.00 C484.17,1119.43 484.20,1131.53 484.70,1141.60 C485.20,1151.67 485.95,1162.13 486.80,1172.40 C487.65,1182.67 488.78,1194.65 489.80,1203.20 C490.82,1211.75 492.03,1218.40 492.90,1223.70 C493.77,1229.00 494.40,1231.45 495.00,1235.00 C495.60,1238.55 496.05,1240.70 496.50,1245.00 C496.95,1249.30 496.82,1253.03 497.70,1260.80 C498.58,1268.57 500.25,1281.33 501.80,1291.60 C503.35,1301.87 505.67,1314.33 507.00,1322.40 C508.33,1330.47 508.88,1335.40 509.80,1340.00 C510.72,1344.60 511.63,1346.67 512.50,1350.00 C513.37,1353.33 514.17,1356.67 515.00,1360.00 C515.83,1363.33 516.70,1366.67 517.50,1370.00 C518.30,1373.33 519.05,1376.83 519.80,1380.00 C520.55,1383.17 521.22,1386.33 522.00,1389.00 C522.78,1391.67 523.32,1393.20 524.50,1396.00 C525.68,1398.80 527.32,1403.15 529.10,1405.80 C530.88,1408.45 533.37,1410.28 535.20,1411.90 C537.03,1413.52 537.97,1414.52 540.10,1415.50 C542.23,1416.48 544.68,1417.28 548.00,1417.80 C551.32,1418.32 533.42,1418.47 560.00,1418.60 C586.58,1418.73 682.92,1418.60 707.50,1418.60 L707.50,1418.60 L128.50,1418.60 Z" fill="rgba(253,0,6,0.512)" stroke="none"/>
<path d="M128.50,1418.60 C160.42,1418.58 285.58,1418.67 320.00,1418.50 C354.42,1418.33 330.00,1417.97 335.00,1417.60 C340.00,1417.23 345.17,1416.90 350.00,1416.30 C354.83,1415.70 359.67,1415.05 364.00,1414.00 C368.33,1412.95 371.93,1411.92 376.00,1410.00 C380.07,1408.08 384.72,1405.50 388.40,1402.50 C392.08,1399.50 395.67,1395.08 398.10,1392.00 C400.53,1388.92 401.70,1386.83 403.00,1384.00 C404.30,1381.17 404.73,1378.67 405.90,1375.00 C407.07,1371.33 408.65,1366.67 410.00,1362.00 C411.35,1357.33 412.83,1352.00 414.00,1347.00 C415.17,1342.00 416.08,1337.83 417.00,1332.00 C417.92,1326.17 418.60,1318.73 419.50,1312.00 C420.40,1305.27 421.40,1298.43 422.40,1291.60 C423.40,1284.77 424.65,1276.27 425.50,1271.00 C426.35,1265.73 426.82,1263.42 427.50,1260.00 C428.18,1256.58 428.85,1253.17 429.60,1250.50 C430.35,1247.83 431.10,1245.75 432.00,1244.00 C432.90,1242.25 433.92,1241.33 435.00,1240.00 C436.08,1238.67 437.40,1237.87 438.50,1236.00 C439.60,1234.13 440.73,1232.57 441.60,1228.80 C442.47,1225.03 442.85,1219.38 443.70,1213.40 C444.55,1207.42 445.68,1199.73 446.70,1192.90 C447.72,1186.07 448.77,1179.25 449.80,1172.40 C450.83,1165.55 451.87,1158.65 452.90,1151.80 C453.93,1144.95 454.97,1138.13 456.00,1131.30 C457.03,1124.47 458.35,1116.85 459.10,1110.80 C459.85,1104.75 460.00,1100.13 460.50,1095.00 C461.00,1089.87 461.47,1084.48 462.10,1080.00 C462.73,1075.52 463.83,1072.22 464.30,1068.10 C464.77,1063.98 464.58,1059.03 464.90,1055.30 C465.22,1051.57 465.57,1048.58 466.20,1045.70 C466.83,1042.82 467.73,1039.93 468.70,1038.00 C469.67,1036.07 470.92,1033.90 472.00,1034.10 C473.08,1034.30 474.35,1036.73 475.20,1039.20 C476.05,1041.67 476.57,1045.68 477.10,1048.90 C477.63,1052.12 477.97,1054.77 478.40,1058.50 C478.83,1062.23 479.30,1067.05 479.70,1071.30 C480.10,1075.55 480.33,1079.72 480.80,1084.00 C481.27,1088.28 482.00,1092.33 482.50,1097.00 C483.00,1101.67 483.43,1104.57 483.80,1112.00 C484.17,1119.43 484.20,1131.53 484.70,1141.60 C485.20,1151.67 485.95,1162.13 486.80,1172.40 C487.65,1182.67 488.78,1194.65 489.80,1203.20 C490.82,1211.75 492.03,1218.40 492.90,1223.70 C493.77,1229.00 494.40,1231.45 495.00,1235.00 C495.60,1238.55 496.05,1240.70 496.50,1245.00 C496.95,1249.30 496.82,1253.03 497.70,1260.80 C498.58,1268.57 500.25,1281.33 501.80,1291.60 C503.35,1301.87 505.67,1314.33 507.00,1322.40 C508.33,1330.47 508.88,1335.40 509.80,1340.00 C510.72,1344.60 511.63,1346.67 512.50,1350.00 C513.37,1353.33 514.17,1356.67 515.00,1360.00 C515.83,1363.33 516.70,1366.67 517.50,1370.00 C518.30,1373.33 519.05,1376.83 519.80,1380.00 C520.55,1383.17 521.22,1386.33 522.00,1389.00 C522.78,1391.67 523.32,1393.20 524.50,1396.00 C525.68,1398.80 527.32,1403.15 529.10,1405.80 C530.88,1408.45 533.37,1410.28 535.20,1411.90 C537.03,1413.52 537.97,1414.52 540.10,1415.50 C542.23,1416.48 544.68,1417.28 548.00,1417.80 C551.32,1418.32 533.42,1418.47 560.00,1418.60 C586.58,1418.73 682.92,1418.60 707.50,1418.60" fill="none" stroke="#e0000c" stroke-width="2.8" stroke-linejoin="round"/>
<path d="M128.50,1418.60 C149.08,1418.58 230.42,1418.68 252.00,1418.50 C273.58,1418.32 256.00,1417.95 258.00,1417.50 C260.00,1417.05 262.00,1416.33 264.00,1415.80 C266.00,1415.27 268.17,1414.85 270.00,1414.30 C271.83,1413.75 273.47,1412.93 275.00,1412.50 C276.53,1412.07 277.78,1411.70 279.20,1411.70 C280.62,1411.70 281.87,1412.02 283.50,1412.50 C285.13,1412.98 287.08,1413.82 289.00,1414.60 C290.92,1415.38 293.17,1416.57 295.00,1417.20 C296.83,1417.83 294.17,1418.22 300.00,1418.40 C305.83,1418.58 323.72,1418.47 330.00,1418.30 C336.28,1418.13 334.78,1417.78 337.70,1417.40 C340.62,1417.02 343.43,1416.60 347.50,1416.00 C351.57,1415.40 357.55,1414.72 362.10,1413.80 C366.65,1412.88 371.07,1412.05 374.80,1410.50 C378.53,1408.95 381.27,1406.83 384.50,1404.50 C387.73,1402.17 391.28,1399.75 394.20,1396.50 C397.12,1393.25 400.03,1389.08 402.00,1385.00 C403.97,1380.92 404.48,1376.45 406.00,1372.00 C407.52,1367.55 409.40,1363.15 411.10,1358.30 C412.80,1353.45 414.67,1348.88 416.20,1342.90 C417.73,1336.92 419.10,1329.25 420.30,1322.40 C421.50,1315.55 422.20,1308.70 423.40,1301.80 C424.60,1294.90 425.90,1287.97 427.50,1281.00 C429.10,1274.03 431.63,1266.00 433.00,1260.00 C434.37,1254.00 434.87,1249.67 435.70,1245.00 C436.53,1240.33 437.28,1235.83 438.00,1232.00 C438.72,1228.17 439.43,1226.50 440.00,1222.00 C440.57,1217.50 440.98,1211.17 441.40,1205.00 C441.82,1198.83 442.15,1191.67 442.50,1185.00 C442.85,1178.33 443.17,1171.67 443.50,1165.00 C443.83,1158.33 444.17,1150.83 444.50,1145.00 C444.83,1139.17 445.17,1135.00 445.50,1130.00 C445.83,1125.00 446.10,1120.33 446.50,1115.00 C446.90,1109.67 447.48,1103.17 447.90,1098.00 C448.32,1092.83 448.68,1088.45 449.00,1084.00 C449.32,1079.55 449.50,1075.55 449.80,1071.30 C450.10,1067.05 450.42,1062.23 450.80,1058.50 C451.18,1054.77 451.57,1051.78 452.10,1048.90 C452.63,1046.02 453.32,1043.13 454.00,1041.20 C454.68,1039.27 455.35,1036.77 456.20,1037.30 C457.05,1037.83 458.28,1041.40 459.10,1044.40 C459.92,1047.40 460.45,1051.35 461.10,1055.30 C461.75,1059.25 462.37,1063.83 463.00,1068.10 C463.63,1072.37 464.27,1077.15 464.90,1080.90 C465.53,1084.65 466.05,1087.92 466.80,1090.60 C467.55,1093.28 468.43,1094.87 469.40,1097.00 C470.37,1099.13 471.63,1101.05 472.60,1103.40 C473.57,1105.75 474.38,1107.30 475.20,1111.10 C476.02,1114.90 476.60,1121.12 477.50,1126.20 C478.40,1131.28 479.73,1135.62 480.60,1141.60 C481.47,1147.58 482.02,1155.27 482.70,1162.10 C483.38,1168.93 484.02,1175.75 484.70,1182.60 C485.38,1189.45 486.17,1196.13 486.80,1203.20 C487.43,1210.27 487.88,1218.87 488.50,1225.00 C489.12,1231.13 489.82,1234.03 490.50,1240.00 C491.18,1245.97 491.73,1252.20 492.60,1260.80 C493.47,1269.40 494.67,1281.33 495.70,1291.60 C496.73,1301.87 497.83,1314.33 498.80,1322.40 C499.77,1330.47 500.55,1334.40 501.50,1340.00 C502.45,1345.60 503.50,1351.00 504.50,1356.00 C505.50,1361.00 506.50,1365.67 507.50,1370.00 C508.50,1374.33 509.13,1377.87 510.50,1382.00 C511.87,1386.13 513.82,1391.03 515.70,1394.80 C517.58,1398.57 519.57,1401.73 521.80,1404.60 C524.03,1407.47 526.90,1410.52 529.10,1412.00 C531.30,1413.48 533.17,1413.23 535.00,1413.50 C536.83,1413.77 538.27,1413.43 540.10,1413.60 C541.93,1413.77 543.97,1414.10 546.00,1414.50 C548.03,1414.90 549.63,1415.38 552.30,1416.00 C554.97,1416.62 559.05,1417.77 562.00,1418.20 C564.95,1418.63 545.75,1418.53 570.00,1418.60 C594.25,1418.67 684.58,1418.60 707.50,1418.60 L707.50,1418.60 L128.50,1418.60 Z" fill="rgba(9,0,244,0.496)" stroke="none"/>
<path d="M128.50,1418.60 C149.08,1418.58 230.42,1418.68 252.00,1418.50 C273.58,1418.32 256.00,1417.95 258.00,1417.50 C260.00,1417.05 262.00,1416.33 264.00,1415.80 C266.00,1415.27 268.17,1414.85 270.00,1414.30 C271.83,1413.75 273.47,1412.93 275.00,1412.50 C276.53,1412.07 277.78,1411.70 279.20,1411.70 C280.62,1411.70 281.87,1412.02 283.50,1412.50 C285.13,1412.98 287.08,1413.82 289.00,1414.60 C290.92,1415.38 293.17,1416.57 295.00,1417.20 C296.83,1417.83 294.17,1418.22 300.00,1418.40 C305.83,1418.58 323.72,1418.47 330.00,1418.30 C336.28,1418.13 334.78,1417.78 337.70,1417.40 C340.62,1417.02 343.43,1416.60 347.50,1416.00 C351.57,1415.40 357.55,1414.72 362.10,1413.80 C366.65,1412.88 371.07,1412.05 374.80,1410.50 C378.53,1408.95 381.27,1406.83 384.50,1404.50 C387.73,1402.17 391.28,1399.75 394.20,1396.50 C397.12,1393.25 400.03,1389.08 402.00,1385.00 C403.97,1380.92 404.48,1376.45 406.00,1372.00 C407.52,1367.55 409.40,1363.15 411.10,1358.30 C412.80,1353.45 414.67,1348.88 416.20,1342.90 C417.73,1336.92 419.10,1329.25 420.30,1322.40 C421.50,1315.55 422.20,1308.70 423.40,1301.80 C424.60,1294.90 425.90,1287.97 427.50,1281.00 C429.10,1274.03 431.63,1266.00 433.00,1260.00 C434.37,1254.00 434.87,1249.67 435.70,1245.00 C436.53,1240.33 437.28,1235.83 438.00,1232.00 C438.72,1228.17 439.43,1226.50 440.00,1222.00 C440.57,1217.50 440.98,1211.17 441.40,1205.00 C441.82,1198.83 442.15,1191.67 442.50,1185.00 C442.85,1178.33 443.17,1171.67 443.50,1165.00 C443.83,1158.33 444.17,1150.83 444.50,1145.00 C444.83,1139.17 445.17,1135.00 445.50,1130.00 C445.83,1125.00 446.10,1120.33 446.50,1115.00 C446.90,1109.67 447.48,1103.17 447.90,1098.00 C448.32,1092.83 448.68,1088.45 449.00,1084.00 C449.32,1079.55 449.50,1075.55 449.80,1071.30 C450.10,1067.05 450.42,1062.23 450.80,1058.50 C451.18,1054.77 451.57,1051.78 452.10,1048.90 C452.63,1046.02 453.32,1043.13 454.00,1041.20 C454.68,1039.27 455.35,1036.77 456.20,1037.30 C457.05,1037.83 458.28,1041.40 459.10,1044.40 C459.92,1047.40 460.45,1051.35 461.10,1055.30 C461.75,1059.25 462.37,1063.83 463.00,1068.10 C463.63,1072.37 464.27,1077.15 464.90,1080.90 C465.53,1084.65 466.05,1087.92 466.80,1090.60 C467.55,1093.28 468.43,1094.87 469.40,1097.00 C470.37,1099.13 471.63,1101.05 472.60,1103.40 C473.57,1105.75 474.38,1107.30 475.20,1111.10 C476.02,1114.90 476.60,1121.12 477.50,1126.20 C478.40,1131.28 479.73,1135.62 480.60,1141.60 C481.47,1147.58 482.02,1155.27 482.70,1162.10 C483.38,1168.93 484.02,1175.75 484.70,1182.60 C485.38,1189.45 486.17,1196.13 486.80,1203.20 C487.43,1210.27 487.88,1218.87 488.50,1225.00 C489.12,1231.13 489.82,1234.03 490.50,1240.00 C491.18,1245.97 491.73,1252.20 492.60,1260.80 C493.47,1269.40 494.67,1281.33 495.70,1291.60 C496.73,1301.87 497.83,1314.33 498.80,1322.40 C499.77,1330.47 500.55,1334.40 501.50,1340.00 C502.45,1345.60 503.50,1351.00 504.50,1356.00 C505.50,1361.00 506.50,1365.67 507.50,1370.00 C508.50,1374.33 509.13,1377.87 510.50,1382.00 C511.87,1386.13 513.82,1391.03 515.70,1394.80 C517.58,1398.57 519.57,1401.73 521.80,1404.60 C524.03,1407.47 526.90,1410.52 529.10,1412.00 C531.30,1413.48 533.17,1413.23 535.00,1413.50 C536.83,1413.77 538.27,1413.43 540.10,1413.60 C541.93,1413.77 543.97,1414.10 546.00,1414.50 C548.03,1414.90 549.63,1415.38 552.30,1416.00 C554.97,1416.62 559.05,1417.77 562.00,1418.20 C564.95,1418.63 545.75,1418.53 570.00,1418.60 C594.25,1418.67 684.58,1418.60 707.50,1418.60" fill="none" stroke="#0000ee" stroke-width="2.8" stroke-linejoin="round"/>
<path d="M128.50,1418.60 C161.25,1418.57 290.45,1418.62 325.00,1418.40 C359.55,1418.18 332.87,1417.93 335.80,1417.30 C338.73,1416.67 340.33,1416.35 342.60,1414.60 C344.87,1412.85 347.45,1410.22 349.40,1406.80 C351.35,1403.38 352.95,1397.73 354.30,1394.10 C355.65,1390.47 356.47,1388.35 357.50,1385.00 C358.53,1381.65 359.50,1377.67 360.50,1374.00 C361.50,1370.33 362.60,1366.47 363.50,1363.00 C364.40,1359.53 364.98,1358.27 365.90,1353.20 C366.82,1348.13 368.05,1339.45 369.00,1332.60 C369.95,1325.75 370.73,1318.93 371.60,1312.10 C372.47,1305.27 373.43,1298.45 374.20,1291.60 C374.97,1284.75 375.52,1277.85 376.20,1271.00 C376.88,1264.15 377.67,1257.00 378.30,1250.50 C378.93,1244.00 379.20,1239.88 380.00,1232.00 C380.80,1224.12 382.07,1211.43 383.10,1203.20 C384.13,1194.97 385.00,1189.45 386.20,1182.60 C387.40,1175.75 389.10,1168.93 390.30,1162.10 C391.50,1155.27 392.47,1148.45 393.40,1141.60 C394.33,1134.75 395.05,1127.85 395.90,1121.00 C396.75,1114.15 397.73,1107.33 398.50,1100.50 C399.27,1093.67 400.08,1085.58 400.50,1080.00 C400.92,1074.42 400.82,1071.32 401.00,1067.00 C401.18,1062.68 401.35,1058.38 401.60,1054.10 C401.85,1049.82 402.13,1045.57 402.50,1041.30 C402.87,1037.03 403.42,1032.77 403.80,1028.50 C404.18,1024.23 404.42,1019.45 404.80,1015.70 C405.18,1011.95 405.52,1008.47 406.10,1006.00 C406.68,1003.53 407.45,1000.90 408.30,1000.90 C409.15,1000.90 410.28,1003.53 411.20,1006.00 C412.12,1008.47 413.05,1011.95 413.80,1015.70 C414.55,1019.45 415.17,1024.23 415.70,1028.50 C416.23,1032.77 416.45,1037.05 417.00,1041.30 C417.55,1045.55 418.37,1049.72 419.00,1054.00 C419.63,1058.28 420.23,1062.67 420.80,1067.00 C421.37,1071.33 421.78,1075.00 422.40,1080.00 C423.02,1085.00 423.65,1090.33 424.50,1097.00 C425.35,1103.67 426.37,1112.57 427.50,1120.00 C428.63,1127.43 430.23,1134.58 431.30,1141.60 C432.37,1148.62 433.12,1155.27 433.90,1162.10 C434.68,1168.93 435.40,1175.75 436.00,1182.60 C436.60,1189.45 437.03,1196.13 437.50,1203.20 C437.97,1210.27 438.30,1217.20 438.80,1225.00 C439.30,1232.80 439.87,1242.33 440.50,1250.00 C441.13,1257.67 441.82,1264.07 442.60,1271.00 C443.38,1277.93 444.35,1283.93 445.20,1291.60 C446.05,1299.27 446.82,1309.77 447.70,1317.00 C448.58,1324.23 449.62,1329.83 450.50,1335.00 C451.38,1340.17 451.83,1342.83 453.00,1348.00 C454.17,1353.17 455.95,1359.83 457.50,1366.00 C459.05,1372.17 460.72,1379.80 462.30,1385.00 C463.88,1390.20 465.20,1393.33 467.00,1397.20 C468.80,1401.07 470.87,1405.35 473.10,1408.20 C475.33,1411.05 477.15,1412.75 480.40,1414.30 C483.65,1415.85 488.50,1416.80 492.60,1417.50 C496.70,1418.20 469.18,1418.32 505.00,1418.50 C540.82,1418.68 673.75,1418.58 707.50,1418.60 L707.50,1418.60 L128.50,1418.60 Z" fill="rgba(0,229,0,0.431)" stroke="none"/>
<path d="M128.50,1418.60 C161.25,1418.57 290.45,1418.62 325.00,1418.40 C359.55,1418.18 332.87,1417.93 335.80,1417.30 C338.73,1416.67 340.33,1416.35 342.60,1414.60 C344.87,1412.85 347.45,1410.22 349.40,1406.80 C351.35,1403.38 352.95,1397.73 354.30,1394.10 C355.65,1390.47 356.47,1388.35 357.50,1385.00 C358.53,1381.65 359.50,1377.67 360.50,1374.00 C361.50,1370.33 362.60,1366.47 363.50,1363.00 C364.40,1359.53 364.98,1358.27 365.90,1353.20 C366.82,1348.13 368.05,1339.45 369.00,1332.60 C369.95,1325.75 370.73,1318.93 371.60,1312.10 C372.47,1305.27 373.43,1298.45 374.20,1291.60 C374.97,1284.75 375.52,1277.85 376.20,1271.00 C376.88,1264.15 377.67,1257.00 378.30,1250.50 C378.93,1244.00 379.20,1239.88 380.00,1232.00 C380.80,1224.12 382.07,1211.43 383.10,1203.20 C384.13,1194.97 385.00,1189.45 386.20,1182.60 C387.40,1175.75 389.10,1168.93 390.30,1162.10 C391.50,1155.27 392.47,1148.45 393.40,1141.60 C394.33,1134.75 395.05,1127.85 395.90,1121.00 C396.75,1114.15 397.73,1107.33 398.50,1100.50 C399.27,1093.67 400.08,1085.58 400.50,1080.00 C400.92,1074.42 400.82,1071.32 401.00,1067.00 C401.18,1062.68 401.35,1058.38 401.60,1054.10 C401.85,1049.82 402.13,1045.57 402.50,1041.30 C402.87,1037.03 403.42,1032.77 403.80,1028.50 C404.18,1024.23 404.42,1019.45 404.80,1015.70 C405.18,1011.95 405.52,1008.47 406.10,1006.00 C406.68,1003.53 407.45,1000.90 408.30,1000.90 C409.15,1000.90 410.28,1003.53 411.20,1006.00 C412.12,1008.47 413.05,1011.95 413.80,1015.70 C414.55,1019.45 415.17,1024.23 415.70,1028.50 C416.23,1032.77 416.45,1037.05 417.00,1041.30 C417.55,1045.55 418.37,1049.72 419.00,1054.00 C419.63,1058.28 420.23,1062.67 420.80,1067.00 C421.37,1071.33 421.78,1075.00 422.40,1080.00 C423.02,1085.00 423.65,1090.33 424.50,1097.00 C425.35,1103.67 426.37,1112.57 427.50,1120.00 C428.63,1127.43 430.23,1134.58 431.30,1141.60 C432.37,1148.62 433.12,1155.27 433.90,1162.10 C434.68,1168.93 435.40,1175.75 436.00,1182.60 C436.60,1189.45 437.03,1196.13 437.50,1203.20 C437.97,1210.27 438.30,1217.20 438.80,1225.00 C439.30,1232.80 439.87,1242.33 440.50,1250.00 C441.13,1257.67 441.82,1264.07 442.60,1271.00 C443.38,1277.93 444.35,1283.93 445.20,1291.60 C446.05,1299.27 446.82,1309.77 447.70,1317.00 C448.58,1324.23 449.62,1329.83 450.50,1335.00 C451.38,1340.17 451.83,1342.83 453.00,1348.00 C454.17,1353.17 455.95,1359.83 457.50,1366.00 C459.05,1372.17 460.72,1379.80 462.30,1385.00 C463.88,1390.20 465.20,1393.33 467.00,1397.20 C468.80,1401.07 470.87,1405.35 473.10,1408.20 C475.33,1411.05 477.15,1412.75 480.40,1414.30 C483.65,1415.85 488.50,1416.80 492.60,1417.50 C496.70,1418.20 469.18,1418.32 505.00,1418.50 C540.82,1418.68 673.75,1418.58 707.50,1418.60" fill="none" stroke="#22e01a" stroke-width="2.8" stroke-linejoin="round"/>
<path d="M128.50,1418.60 C154.58,1418.57 257.60,1418.70 285.00,1418.40 C312.40,1418.10 290.12,1417.43 292.90,1416.80 C295.68,1416.17 298.78,1415.95 301.70,1414.60 C304.62,1413.25 307.65,1410.82 310.40,1408.70 C313.15,1406.58 315.60,1404.82 318.20,1401.90 C320.80,1398.98 323.57,1395.75 326.00,1391.20 C328.43,1386.65 330.93,1380.93 332.80,1374.60 C334.67,1368.27 335.87,1360.20 337.20,1353.20 C338.53,1346.20 339.60,1339.45 340.80,1332.60 C342.00,1325.75 343.20,1318.93 344.40,1312.10 C345.60,1305.27 346.88,1298.45 348.00,1291.60 C349.12,1284.75 350.22,1277.85 351.10,1271.00 C351.98,1264.15 352.73,1257.33 353.30,1250.50 C353.87,1243.67 354.07,1237.88 354.50,1230.00 C354.93,1222.12 355.42,1211.10 355.90,1203.20 C356.38,1195.30 356.80,1189.45 357.40,1182.60 C358.00,1175.75 358.90,1168.93 359.50,1162.10 C360.10,1155.27 360.48,1148.45 361.00,1141.60 C361.52,1134.75 362.13,1126.60 362.60,1121.00 C363.07,1115.40 363.40,1111.00 363.80,1108.00 C364.20,1105.00 364.35,1104.58 365.00,1103.00 C365.65,1101.42 366.78,1100.50 367.70,1098.50 C368.62,1096.50 369.77,1094.12 370.50,1091.00 C371.23,1087.88 371.57,1083.80 372.10,1079.80 C372.63,1075.80 373.22,1071.28 373.70,1067.00 C374.18,1062.72 374.63,1058.38 375.00,1054.10 C375.37,1049.82 375.58,1045.57 375.90,1041.30 C376.22,1037.03 376.58,1032.77 376.90,1028.50 C377.22,1024.23 377.43,1019.45 377.80,1015.70 C378.17,1011.95 378.35,1008.37 379.10,1006.00 C379.85,1003.63 381.02,1001.70 382.30,1001.50 C383.58,1001.30 385.40,1003.30 386.80,1004.80 C388.20,1006.30 389.63,1008.15 390.70,1010.50 C391.77,1012.85 392.45,1015.90 393.20,1018.90 C393.95,1021.90 394.60,1024.77 395.20,1028.50 C395.80,1032.23 396.27,1037.03 396.80,1041.30 C397.33,1045.57 397.82,1049.82 398.40,1054.10 C398.98,1058.38 399.70,1062.68 400.30,1067.00 C400.90,1071.32 401.48,1075.33 402.00,1080.00 C402.52,1084.67 402.95,1089.87 403.40,1095.00 C403.85,1100.13 403.98,1103.03 404.70,1110.80 C405.42,1118.57 406.68,1131.33 407.70,1141.60 C408.72,1151.87 409.77,1162.13 410.80,1172.40 C411.83,1182.67 412.98,1193.60 413.90,1203.20 C414.82,1212.80 415.40,1222.12 416.30,1230.00 C417.20,1237.88 418.28,1243.67 419.30,1250.50 C420.32,1257.33 421.55,1264.15 422.40,1271.00 C423.25,1277.85 423.88,1284.75 424.40,1291.60 C424.92,1298.45 424.98,1305.27 425.50,1312.10 C426.02,1318.93 426.88,1327.12 427.50,1332.60 C428.12,1338.08 428.30,1339.70 429.20,1345.00 C430.10,1350.30 431.85,1358.57 432.90,1364.40 C433.95,1370.23 434.68,1375.95 435.50,1380.00 C436.32,1384.05 436.42,1385.62 437.80,1388.70 C439.18,1391.78 441.57,1395.25 443.80,1398.50 C446.03,1401.75 448.75,1405.57 451.20,1408.20 C453.65,1410.83 455.87,1412.75 458.50,1414.30 C461.13,1415.85 463.42,1416.80 467.00,1417.50 C470.58,1418.20 439.92,1418.32 480.00,1418.50 C520.08,1418.68 669.58,1418.58 707.50,1418.60 L707.50,1418.60 L128.50,1418.60 Z" fill="rgba(55,53,50,0.419)" stroke="none"/>
<path d="M128.50,1418.60 C154.58,1418.57 257.60,1418.70 285.00,1418.40 C312.40,1418.10 290.12,1417.43 292.90,1416.80 C295.68,1416.17 298.78,1415.95 301.70,1414.60 C304.62,1413.25 307.65,1410.82 310.40,1408.70 C313.15,1406.58 315.60,1404.82 318.20,1401.90 C320.80,1398.98 323.57,1395.75 326.00,1391.20 C328.43,1386.65 330.93,1380.93 332.80,1374.60 C334.67,1368.27 335.87,1360.20 337.20,1353.20 C338.53,1346.20 339.60,1339.45 340.80,1332.60 C342.00,1325.75 343.20,1318.93 344.40,1312.10 C345.60,1305.27 346.88,1298.45 348.00,1291.60 C349.12,1284.75 350.22,1277.85 351.10,1271.00 C351.98,1264.15 352.73,1257.33 353.30,1250.50 C353.87,1243.67 354.07,1237.88 354.50,1230.00 C354.93,1222.12 355.42,1211.10 355.90,1203.20 C356.38,1195.30 356.80,1189.45 357.40,1182.60 C358.00,1175.75 358.90,1168.93 359.50,1162.10 C360.10,1155.27 360.48,1148.45 361.00,1141.60 C361.52,1134.75 362.13,1126.60 362.60,1121.00 C363.07,1115.40 363.40,1111.00 363.80,1108.00 C364.20,1105.00 364.35,1104.58 365.00,1103.00 C365.65,1101.42 366.78,1100.50 367.70,1098.50 C368.62,1096.50 369.77,1094.12 370.50,1091.00 C371.23,1087.88 371.57,1083.80 372.10,1079.80 C372.63,1075.80 373.22,1071.28 373.70,1067.00 C374.18,1062.72 374.63,1058.38 375.00,1054.10 C375.37,1049.82 375.58,1045.57 375.90,1041.30 C376.22,1037.03 376.58,1032.77 376.90,1028.50 C377.22,1024.23 377.43,1019.45 377.80,1015.70 C378.17,1011.95 378.35,1008.37 379.10,1006.00 C379.85,1003.63 381.02,1001.70 382.30,1001.50 C383.58,1001.30 385.40,1003.30 386.80,1004.80 C388.20,1006.30 389.63,1008.15 390.70,1010.50 C391.77,1012.85 392.45,1015.90 393.20,1018.90 C393.95,1021.90 394.60,1024.77 395.20,1028.50 C395.80,1032.23 396.27,1037.03 396.80,1041.30 C397.33,1045.57 397.82,1049.82 398.40,1054.10 C398.98,1058.38 399.70,1062.68 400.30,1067.00 C400.90,1071.32 401.48,1075.33 402.00,1080.00 C402.52,1084.67 402.95,1089.87 403.40,1095.00 C403.85,1100.13 403.98,1103.03 404.70,1110.80 C405.42,1118.57 406.68,1131.33 407.70,1141.60 C408.72,1151.87 409.77,1162.13 410.80,1172.40 C411.83,1182.67 412.98,1193.60 413.90,1203.20 C414.82,1212.80 415.40,1222.12 416.30,1230.00 C417.20,1237.88 418.28,1243.67 419.30,1250.50 C420.32,1257.33 421.55,1264.15 422.40,1271.00 C423.25,1277.85 423.88,1284.75 424.40,1291.60 C424.92,1298.45 424.98,1305.27 425.50,1312.10 C426.02,1318.93 426.88,1327.12 427.50,1332.60 C428.12,1338.08 428.30,1339.70 429.20,1345.00 C430.10,1350.30 431.85,1358.57 432.90,1364.40 C433.95,1370.23 434.68,1375.95 435.50,1380.00 C436.32,1384.05 436.42,1385.62 437.80,1388.70 C439.18,1391.78 441.57,1395.25 443.80,1398.50 C446.03,1401.75 448.75,1405.57 451.20,1408.20 C453.65,1410.83 455.87,1412.75 458.50,1414.30 C461.13,1415.85 463.42,1416.80 467.00,1417.50 C470.58,1418.20 439.92,1418.32 480.00,1418.50 C520.08,1418.68 669.58,1418.58 707.50,1418.60" fill="none" stroke="#3c3c3c" stroke-width="2.8" stroke-linejoin="round"/>
<path d="M121.7,843.30 H707.8 V1422.20" fill="none" stroke="#000" stroke-width="2.4" stroke-linecap="round" stroke-linejoin="round"/>
<line x1="128.10" y1="842.30" x2="128.10" y2="1432.50" stroke="#000" stroke-width="2.40" stroke-linecap="butt"/>
<line x1="126.90" y1="1422.20" x2="709.00" y2="1422.20" stroke="#000" stroke-width="2.60" stroke-linecap="butt"/>
<line x1="111.20" y1="1419.20" x2="128.00" y2="1419.20" stroke="#000" stroke-width="4.40" stroke-linecap="round"/>
<line x1="120.20" y1="1391.71" x2="128.00" y2="1391.71" stroke="#000" stroke-width="2.00" stroke-linecap="round"/>
<line x1="120.20" y1="1364.21" x2="128.00" y2="1364.21" stroke="#000" stroke-width="2.00" stroke-linecap="round"/>
<line x1="120.20" y1="1336.72" x2="128.00" y2="1336.72" stroke="#000" stroke-width="2.00" stroke-linecap="round"/>
<line x1="111.20" y1="1309.22" x2="128.00" y2="1309.22" stroke="#000" stroke-width="4.40" stroke-linecap="round"/>
<line x1="120.20" y1="1281.73" x2="128.00" y2="1281.73" stroke="#000" stroke-width="2.00" stroke-linecap="round"/>
<line x1="120.20" y1="1254.23" x2="128.00" y2="1254.23" stroke="#000" stroke-width="2.00" stroke-linecap="round"/>
<line x1="120.20" y1="1226.74" x2="128.00" y2="1226.74" stroke="#000" stroke-width="2.00" stroke-linecap="round"/>
<line x1="111.20" y1="1199.24" x2="128.00" y2="1199.24" stroke="#000" stroke-width="4.40" stroke-linecap="round"/>
<line x1="120.20" y1="1171.75" x2="128.00" y2="1171.75" stroke="#000" stroke-width="2.00" stroke-linecap="round"/>
<line x1="120.20" y1="1144.25" x2="128.00" y2="1144.25" stroke="#000" stroke-width="2.00" stroke-linecap="round"/>
<line x1="120.20" y1="1116.76" x2="128.00" y2="1116.76" stroke="#000" stroke-width="2.00" stroke-linecap="round"/>
<line x1="111.20" y1="1089.26" x2="128.00" y2="1089.26" stroke="#000" stroke-width="4.40" stroke-linecap="round"/>
<line x1="120.20" y1="1061.77" x2="128.00" y2="1061.77" stroke="#000" stroke-width="2.00" stroke-linecap="round"/>
<line x1="120.20" y1="1034.27" x2="128.00" y2="1034.27" stroke="#000" stroke-width="2.00" stroke-linecap="round"/>
<line x1="120.20" y1="1006.78" x2="128.00" y2="1006.78" stroke="#000" stroke-width="2.00" stroke-linecap="round"/>
<line x1="111.20" y1="979.28" x2="128.00" y2="979.28" stroke="#000" stroke-width="4.40" stroke-linecap="round"/>
<line x1="120.20" y1="951.79" x2="128.00" y2="951.79" stroke="#000" stroke-width="2.00" stroke-linecap="round"/>
<line x1="120.20" y1="924.29" x2="128.00" y2="924.29" stroke="#000" stroke-width="2.00" stroke-linecap="round"/>
<line x1="120.20" y1="896.80" x2="128.00" y2="896.80" stroke="#000" stroke-width="2.00" stroke-linecap="round"/>
<line x1="111.20" y1="869.30" x2="128.00" y2="869.30" stroke="#000" stroke-width="4.40" stroke-linecap="round"/>
<line x1="127.76" y1="1422.20" x2="127.76" y2="1432.00" stroke="#000" stroke-width="2.10" stroke-linecap="round"/>
<line x1="141.61" y1="1422.20" x2="141.61" y2="1430.00" stroke="#000" stroke-width="2.10" stroke-linecap="round"/>
<line x1="153.32" y1="1422.20" x2="153.32" y2="1430.00" stroke="#000" stroke-width="2.10" stroke-linecap="round"/>
<line x1="163.47" y1="1422.20" x2="163.47" y2="1430.00" stroke="#000" stroke-width="2.10" stroke-linecap="round"/>
<line x1="172.42" y1="1422.20" x2="172.42" y2="1430.00" stroke="#000" stroke-width="2.10" stroke-linecap="round"/>
<line x1="180.42" y1="1422.20" x2="180.42" y2="1436.30" stroke="#000" stroke-width="4.40" stroke-linecap="butt"/>
<line x1="233.09" y1="1422.20" x2="233.09" y2="1430.00" stroke="#000" stroke-width="2.10" stroke-linecap="round"/>
<line x1="263.89" y1="1422.20" x2="263.89" y2="1430.00" stroke="#000" stroke-width="2.10" stroke-linecap="round"/>
<line x1="285.75" y1="1422.20" x2="285.75" y2="1430.00" stroke="#000" stroke-width="2.10" stroke-linecap="round"/>
<line x1="302.70" y1="1422.20" x2="302.70" y2="1432.00" stroke="#000" stroke-width="2.10" stroke-linecap="round"/>
<line x1="316.56" y1="1422.20" x2="316.56" y2="1430.00" stroke="#000" stroke-width="2.10" stroke-linecap="round"/>
<line x1="328.27" y1="1422.20" x2="328.27" y2="1430.00" stroke="#000" stroke-width="2.10" stroke-linecap="round"/>
<line x1="338.41" y1="1422.20" x2="338.41" y2="1430.00" stroke="#000" stroke-width="2.10" stroke-linecap="round"/>
<line x1="347.36" y1="1422.20" x2="347.36" y2="1430.00" stroke="#000" stroke-width="2.10" stroke-linecap="round"/>
<line x1="355.37" y1="1422.20" x2="355.37" y2="1436.30" stroke="#000" stroke-width="4.40" stroke-linecap="butt"/>
<line x1="408.03" y1="1422.20" x2="408.03" y2="1430.00" stroke="#000" stroke-width="2.10" stroke-linecap="round"/>
<line x1="438.84" y1="1422.20" x2="438.84" y2="1430.00" stroke="#000" stroke-width="2.10" stroke-linecap="round"/>
<line x1="460.69" y1="1422.20" x2="460.69" y2="1430.00" stroke="#000" stroke-width="2.10" stroke-linecap="round"/>
<line x1="477.65" y1="1422.20" x2="477.65" y2="1432.00" stroke="#000" stroke-width="2.10" stroke-linecap="round"/>
<line x1="491.50" y1="1422.20" x2="491.50" y2="1430.00" stroke="#000" stroke-width="2.10" stroke-linecap="round"/>
<line x1="503.21" y1="1422.20" x2="503.21" y2="1430.00" stroke="#000" stroke-width="2.10" stroke-linecap="round"/>
<line x1="513.36" y1="1422.20" x2="513.36" y2="1430.00" stroke="#000" stroke-width="2.10" stroke-linecap="round"/>
<line x1="522.31" y1="1422.20" x2="522.31" y2="1430.00" stroke="#000" stroke-width="2.10" stroke-linecap="round"/>
<line x1="530.31" y1="1422.20" x2="530.31" y2="1436.30" stroke="#000" stroke-width="4.40" stroke-linecap="butt"/>
<line x1="582.98" y1="1422.20" x2="582.98" y2="1430.00" stroke="#000" stroke-width="2.10" stroke-linecap="round"/>
<line x1="613.78" y1="1422.20" x2="613.78" y2="1430.00" stroke="#000" stroke-width="2.10" stroke-linecap="round"/>
<line x1="635.64" y1="1422.20" x2="635.64" y2="1430.00" stroke="#000" stroke-width="2.10" stroke-linecap="round"/>
<line x1="652.59" y1="1422.20" x2="652.59" y2="1432.00" stroke="#000" stroke-width="2.10" stroke-linecap="round"/>
<line x1="666.45" y1="1422.20" x2="666.45" y2="1430.00" stroke="#000" stroke-width="2.10" stroke-linecap="round"/>
<line x1="678.16" y1="1422.20" x2="678.16" y2="1430.00" stroke="#000" stroke-width="2.10" stroke-linecap="round"/>
<line x1="688.30" y1="1422.20" x2="688.30" y2="1430.00" stroke="#000" stroke-width="2.10" stroke-linecap="round"/>
<line x1="697.25" y1="1422.20" x2="697.25" y2="1430.00" stroke="#000" stroke-width="2.10" stroke-linecap="round"/>
<line x1="705.26" y1="1422.20" x2="705.26" y2="1436.30" stroke="#000" stroke-width="4.40" stroke-linecap="butt"/>
<text x="46.65" y="887.28" font-size="32.34" font-weight="bold" fill="#000" textLength="54.39" lengthAdjust="spacingAndGlyphs">100</text>
<text x="64.25" y="997.26" font-size="32.34" font-weight="bold" fill="#000" textLength="36.81" lengthAdjust="spacingAndGlyphs">80</text>
<text x="64.08" y="1107.24" font-size="32.34" font-weight="bold" fill="#000" textLength="36.98" lengthAdjust="spacingAndGlyphs">60</text>
<text x="64.81" y="1217.22" font-size="32.34" font-weight="bold" fill="#000" textLength="36.23" lengthAdjust="spacingAndGlyphs">40</text>
<text x="64.15" y="1327.20" font-size="32.34" font-weight="bold" fill="#000" textLength="36.91" lengthAdjust="spacingAndGlyphs">20</text>
<text x="82.26" y="1418.29" font-size="31.64" font-weight="bold" fill="#000" textLength="18.83" lengthAdjust="spacingAndGlyphs">0</text>
<text x="162.54" y="1495.98" font-size="33.05" font-weight="bold" fill="#000" textLength="36.29" lengthAdjust="spacingAndGlyphs">10</text>
<text x="198.22" y="1475.44" font-size="32.28" font-weight="bold" fill="#000" textLength="18.80" lengthAdjust="spacingAndGlyphs">3</text>
<text x="339.49" y="1495.98" font-size="33.05" font-weight="bold" fill="#000" textLength="35.41" lengthAdjust="spacingAndGlyphs">10</text>
<text x="375.33" y="1475.80" font-size="33.29" font-weight="bold" fill="#000" textLength="17.44" lengthAdjust="spacingAndGlyphs">4</text>
<text x="513.97" y="1495.98" font-size="33.05" font-weight="bold" fill="#000" textLength="35.85" lengthAdjust="spacingAndGlyphs">10</text>
<text x="549.41" y="1475.48" font-size="32.82" font-weight="bold" fill="#000" textLength="17.88" lengthAdjust="spacingAndGlyphs">5</text>
<text x="652.29" y="1495.98" font-size="33.05" font-weight="bold" fill="#000" textLength="35.52" lengthAdjust="spacingAndGlyphs">10</text>
<text x="687.09" y="1475.48" font-size="32.34" font-weight="bold" fill="#000" textLength="18.41" lengthAdjust="spacingAndGlyphs">6</text>
<text x="352.63" y="1547.80" font-size="41.38" font-weight="bold" fill="#000" textLength="124.18" lengthAdjust="spacingAndGlyphs">PerCP</text>
<text transform="rotate(-90)" x="-1190.48" y="45.28" font-size="42.80" font-weight="bold" fill="#000" textLength="118.18" lengthAdjust="spacingAndGlyphs">Count</text>
<rect x="449.90" y="853.20" width="23.90" height="23.40" fill="#a9a9a9" stroke="#4a4a4a" stroke-width="2.6"/>
<text x="491.86" y="876.00" font-size="29.65" font-weight="bold" fill="#000" textLength="70.89" lengthAdjust="spacingAndGlyphs">MCF7</text>
<rect x="449.90" y="898.50" width="23.90" height="23.00" fill="#8585fa" stroke="#0000a0" stroke-width="2.6"/>
<text x="491.87" y="921.40" font-size="29.80" font-weight="bold" fill="#000" textLength="130.61" lengthAdjust="spacingAndGlyphs">MCF7-CPT</text>
<rect x="449.90" y="943.70" width="23.90" height="23.00" fill="#8cf48c" stroke="#22c822" stroke-width="2.6"/>
<text x="491.87" y="966.70" font-size="29.51" font-weight="bold" fill="#000" textLength="192.36" lengthAdjust="spacingAndGlyphs">MCF7-CPT/CHX</text>
<rect x="449.90" y="988.80" width="23.90" height="23.20" fill="#fe8080" stroke="#c00018" stroke-width="2.6"/>
<text x="491.87" y="1011.60" font-size="29.65" font-weight="bold" fill="#000" textLength="187.17" lengthAdjust="spacingAndGlyphs">MCF7-RA 10Gy</text>
<rect x="992.40" y="457.80" width="107.40" height="180.20" fill="#ffffff" stroke="#000" stroke-width="7" stroke-linejoin="round"/>
<line x1="1046.10" y1="446.50" x2="1046.10" y2="455.30" stroke="#000" stroke-width="4.40" stroke-linecap="butt"/>
<line x1="1019.20" y1="446.50" x2="1073.00" y2="446.50" stroke="#000" stroke-width="4.70" stroke-linecap="round"/>
<rect x="1154.80" y="248.90" width="107.40" height="389.10" fill="#686868" stroke="#000" stroke-width="7" stroke-linejoin="round"/>
<line x1="1208.50" y1="222.40" x2="1208.50" y2="246.40" stroke="#000" stroke-width="4.40" stroke-linecap="butt"/>
<line x1="1181.60" y1="222.40" x2="1235.40" y2="222.40" stroke="#000" stroke-width="4.70" stroke-linecap="round"/>
<rect x="1317.20" y="402.50" width="107.40" height="235.50" fill="#e6e6e6" stroke="#000" stroke-width="7" stroke-linejoin="round"/>
<line x1="1370.90" y1="378.30" x2="1370.90" y2="400.00" stroke="#000" stroke-width="4.40" stroke-linecap="butt"/>
<line x1="1344.00" y1="378.30" x2="1397.80" y2="378.30" stroke="#000" stroke-width="4.70" stroke-linecap="round"/>
<rect x="1479.60" y="323.00" width="107.40" height="315.00" fill="#807f80" stroke="#000" stroke-width="7" stroke-linejoin="round"/>
<line x1="1533.30" y1="294.10" x2="1533.30" y2="320.50" stroke="#000" stroke-width="4.40" stroke-linecap="butt"/>
<line x1="1506.40" y1="294.10" x2="1560.20" y2="294.10" stroke="#000" stroke-width="4.70" stroke-linecap="round"/>
<line x1="938.10" y1="166.30" x2="938.10" y2="641.50" stroke="#000" stroke-width="7.00" stroke-linecap="butt"/>
<line x1="919.50" y1="638.00" x2="1641.50" y2="638.00" stroke="#000" stroke-width="7.00" stroke-linecap="butt"/>
<line x1="919.50" y1="638.00" x2="938.10" y2="638.00" stroke="#000" stroke-width="7.00" stroke-linecap="butt"/>
<line x1="919.50" y1="544.32" x2="938.10" y2="544.32" stroke="#000" stroke-width="7.00" stroke-linecap="butt"/>
<line x1="919.50" y1="450.64" x2="938.10" y2="450.64" stroke="#000" stroke-width="7.00" stroke-linecap="butt"/>
<line x1="919.50" y1="356.96" x2="938.10" y2="356.96" stroke="#000" stroke-width="7.00" stroke-linecap="butt"/>
<line x1="919.50" y1="263.28" x2="938.10" y2="263.28" stroke="#000" stroke-width="7.00" stroke-linecap="butt"/>
<line x1="919.50" y1="169.60" x2="938.10" y2="169.60" stroke="#000" stroke-width="7.00" stroke-linecap="butt"/>
<line x1="1046.10" y1="638.00" x2="1046.10" y2="656.60" stroke="#000" stroke-width="7.00" stroke-linecap="butt"/>
<line x1="1208.50" y1="638.00" x2="1208.50" y2="656.60" stroke="#000" stroke-width="7.00" stroke-linecap="butt"/>
<line x1="1370.90" y1="638.00" x2="1370.90" y2="656.60" stroke="#000" stroke-width="7.00" stroke-linecap="butt"/>
<line x1="1533.30" y1="638.00" x2="1533.30" y2="656.60" stroke="#000" stroke-width="7.00" stroke-linecap="butt"/>
<path d="M1046.50,131.30 L1046.50,120.50 L1534.00,120.50 L1534.00,131.30" fill="none" stroke="#000" stroke-width="2.7"/>
<path d="M1046.50,170.90 L1046.50,159.70 L1207.50,159.70 L1207.50,170.90" fill="none" stroke="#000" stroke-width="2.7"/>
<path d="M1207.50,206.20 L1207.50,195.50 L1370.80,195.50 L1370.80,206.20" fill="none" stroke="#000" stroke-width="2.7"/>
<text x="1271.78" y="123.51" font-size="34.47" font-weight="normal" fill="#000" textLength="37.93" lengthAdjust="spacingAndGlyphs" stroke="#000" stroke-width="0.7" stroke-linejoin="round">***</text>
<text x="1109.78" y="162.31" font-size="34.47" font-weight="normal" fill="#000" textLength="37.62" lengthAdjust="spacingAndGlyphs" stroke="#000" stroke-width="0.7" stroke-linejoin="round">***</text>
<text x="1269.79" y="199.71" font-size="34.47" font-weight="normal" fill="#000" textLength="37.11" lengthAdjust="spacingAndGlyphs" stroke="#000" stroke-width="0.7" stroke-linejoin="round">***</text>
<text x="899.74" y="649.46" font-size="34.46" font-weight="bold" fill="#000" textLength="19.06" lengthAdjust="spacingAndGlyphs">0</text>
<text x="845.59" y="555.78" font-size="34.46" font-weight="bold" fill="#000" textLength="73.16" lengthAdjust="spacingAndGlyphs">5000</text>
<text x="827.12" y="462.10" font-size="34.46" font-weight="bold" fill="#000" textLength="91.63" lengthAdjust="spacingAndGlyphs">10000</text>
<text x="827.12" y="368.42" font-size="34.46" font-weight="bold" fill="#000" textLength="91.63" lengthAdjust="spacingAndGlyphs">15000</text>
<text x="828.07" y="274.74" font-size="34.46" font-weight="bold" fill="#000" textLength="90.67" lengthAdjust="spacingAndGlyphs">20000</text>
<text x="828.07" y="181.06" font-size="34.46" font-weight="bold" fill="#000" textLength="90.67" lengthAdjust="spacingAndGlyphs">25000</text>
<text x="987.65" y="686.65" font-size="35.59" font-weight="bold" fill="#000" textLength="117.19" lengthAdjust="spacingAndGlyphs">Control</text>
<text x="1175.16" y="686.65" font-size="35.59" font-weight="bold" fill="#000" textLength="65.49" lengthAdjust="spacingAndGlyphs">CPT</text>
<text x="1298.46" y="686.65" font-size="35.59" font-weight="bold" fill="#000" textLength="143.12" lengthAdjust="spacingAndGlyphs">CPT/CHX</text>
<text x="1464.84" y="686.65" font-size="35.59" font-weight="bold" fill="#000" textLength="134.84" lengthAdjust="spacingAndGlyphs">RA 10Gy</text>
<text transform="rotate(-90)" x="-573.53" y="809.13" font-size="43.23" font-weight="bold" fill="#000" textLength="336.07" lengthAdjust="spacingAndGlyphs">Fl. Intensity (a.u.)</text>
<rect x="992.40" y="1278.50" width="107.40" height="142.60" fill="#ffffff" stroke="#000" stroke-width="7" stroke-linejoin="round"/>
<line x1="1046.10" y1="1255.50" x2="1046.10" y2="1276.00" stroke="#000" stroke-width="4.40" stroke-linecap="butt"/>
<line x1="1019.20" y1="1255.50" x2="1073.00" y2="1255.50" stroke="#000" stroke-width="4.70" stroke-linecap="round"/>
<rect x="1154.80" y="1070.40" width="107.40" height="350.70" fill="#686868" stroke="#000" stroke-width="7" stroke-linejoin="round"/>
<line x1="1208.50" y1="1034.20" x2="1208.50" y2="1067.90" stroke="#000" stroke-width="4.40" stroke-linecap="butt"/>
<line x1="1181.60" y1="1034.20" x2="1235.40" y2="1034.20" stroke="#000" stroke-width="4.70" stroke-linecap="round"/>
<rect x="1317.20" y="1220.70" width="107.40" height="200.40" fill="#e6e6e6" stroke="#000" stroke-width="7" stroke-linejoin="round"/>
<line x1="1370.90" y1="1187.20" x2="1370.90" y2="1218.20" stroke="#000" stroke-width="4.40" stroke-linecap="butt"/>
<line x1="1344.00" y1="1187.20" x2="1397.80" y2="1187.20" stroke="#000" stroke-width="4.70" stroke-linecap="round"/>
<rect x="1479.60" y="1018.00" width="107.40" height="403.10" fill="#807f80" stroke="#000" stroke-width="7" stroke-linejoin="round"/>
<line x1="1533.30" y1="993.80" x2="1533.30" y2="1015.50" stroke="#000" stroke-width="4.40" stroke-linecap="butt"/>
<line x1="1506.40" y1="993.80" x2="1560.20" y2="993.80" stroke="#000" stroke-width="4.70" stroke-linecap="round"/>
<line x1="938.10" y1="949.50" x2="938.10" y2="1424.60" stroke="#000" stroke-width="7.00" stroke-linecap="butt"/>
<line x1="919.50" y1="1421.10" x2="1641.50" y2="1421.10" stroke="#000" stroke-width="7.00" stroke-linecap="butt"/>
<line x1="919.50" y1="1421.10" x2="938.10" y2="1421.10" stroke="#000" stroke-width="7.00" stroke-linecap="butt"/>
<line x1="919.50" y1="1327.34" x2="938.10" y2="1327.34" stroke="#000" stroke-width="7.00" stroke-linecap="butt"/>
<line x1="919.50" y1="1233.58" x2="938.10" y2="1233.58" stroke="#000" stroke-width="7.00" stroke-linecap="butt"/>
<line x1="919.50" y1="1139.82" x2="938.10" y2="1139.82" stroke="#000" stroke-width="7.00" stroke-linecap="butt"/>
<line x1="919.50" y1="1046.06" x2="938.10" y2="1046.06" stroke="#000" stroke-width="7.00" stroke-linecap="butt"/>
<line x1="919.50" y1="952.30" x2="938.10" y2="952.30" stroke="#000" stroke-width="7.00" stroke-linecap="butt"/>
<line x1="1046.10" y1="1421.10" x2="1046.10" y2="1439.70" stroke="#000" stroke-width="7.00" stroke-linecap="butt"/>
<line x1="1208.50" y1="1421.10" x2="1208.50" y2="1439.70" stroke="#000" stroke-width="7.00" stroke-linecap="butt"/>
<line x1="1370.90" y1="1421.10" x2="1370.90" y2="1439.70" stroke="#000" stroke-width="7.00" stroke-linecap="butt"/>
<line x1="1533.30" y1="1421.10" x2="1533.30" y2="1439.70" stroke="#000" stroke-width="7.00" stroke-linecap="butt"/>
<path d="M1048.10,954.50 L1048.10,945.30 L1535.00,945.30 L1535.00,954.50" fill="none" stroke="#000" stroke-width="2.7"/>
<path d="M1048.10,990.40 L1048.10,982.30 L1208.10,982.30 L1208.10,990.40" fill="none" stroke="#000" stroke-width="2.7"/>
<path d="M1208.10,1022.40 L1208.10,1013.70 L1368.80,1013.70 L1368.80,1022.40" fill="none" stroke="#000" stroke-width="2.7"/>
<text x="1272.78" y="946.95" font-size="31.90" font-weight="normal" fill="#000" textLength="37.93" lengthAdjust="spacingAndGlyphs" stroke="#000" stroke-width="0.7" stroke-linejoin="round">***</text>
<text x="1108.67" y="981.96" font-size="31.05" font-weight="normal" fill="#000" textLength="38.45" lengthAdjust="spacingAndGlyphs" stroke="#000" stroke-width="0.7" stroke-linejoin="round">***</text>
<text x="1264.17" y="1007.25" font-size="31.90" font-weight="normal" fill="#000" textLength="38.24" lengthAdjust="spacingAndGlyphs" stroke="#000" stroke-width="0.7" stroke-linejoin="round">***</text>
<text x="899.74" y="1432.56" font-size="34.46" font-weight="bold" fill="#000" textLength="19.06" lengthAdjust="spacingAndGlyphs">0</text>
<text x="827.12" y="1338.80" font-size="34.46" font-weight="bold" fill="#000" textLength="91.63" lengthAdjust="spacingAndGlyphs">10000</text>
<text x="828.07" y="1245.04" font-size="34.46" font-weight="bold" fill="#000" textLength="90.67" lengthAdjust="spacingAndGlyphs">20000</text>
<text x="828.45" y="1151.23" font-size="34.39" font-weight="bold" fill="#000" textLength="90.28" lengthAdjust="spacingAndGlyphs">30000</text>
<text x="828.71" y="1057.52" font-size="34.46" font-weight="bold" fill="#000" textLength="90.02" lengthAdjust="spacingAndGlyphs">40000</text>
<text x="828.20" y="963.76" font-size="34.46" font-weight="bold" fill="#000" textLength="90.54" lengthAdjust="spacingAndGlyphs">50000</text>
<text x="987.65" y="1469.75" font-size="35.59" font-weight="bold" fill="#000" textLength="117.19" lengthAdjust="spacingAndGlyphs">Control</text>
<text x="1175.16" y="1469.75" font-size="35.59" font-weight="bold" fill="#000" textLength="65.49" lengthAdjust="spacingAndGlyphs">CPT</text>
<text x="1298.46" y="1469.75" font-size="35.59" font-weight="bold" fill="#000" textLength="143.12" lengthAdjust="spacingAndGlyphs">CPT/CHX</text>
<text x="1464.84" y="1469.75" font-size="35.59" font-weight="bold" fill="#000" textLength="134.84" lengthAdjust="spacingAndGlyphs">RA 10Gy</text>
<text transform="rotate(-90)" x="-1356.63" y="809.13" font-size="43.23" font-weight="bold" fill="#000" textLength="336.07" lengthAdjust="spacingAndGlyphs">Fl. Intensity (a.u.)</text>
</svg>
</body></html>
